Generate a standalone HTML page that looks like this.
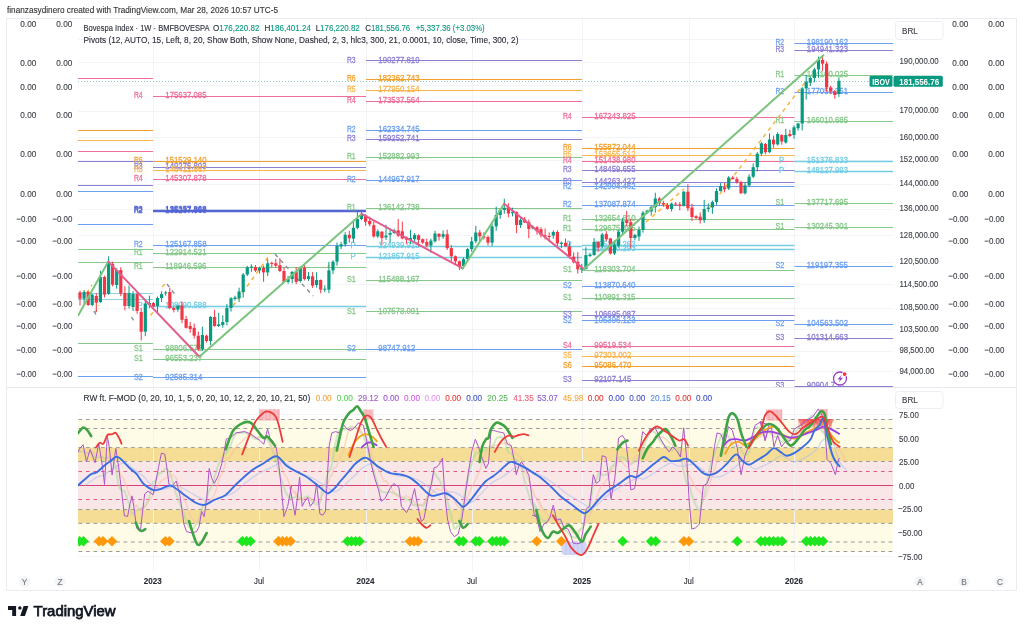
<!DOCTYPE html>
<html><head><meta charset="utf-8"><title>Bovespa Index chart</title>
<style>
html,body{margin:0;padding:0;background:#ffffff;}
body{width:1024px;height:632px;overflow:hidden;position:relative;font-family:'Liberation Sans', Arial, sans-serif;}
svg{position:absolute;left:0;top:0;}
svg text{font-family:'Liberation Sans', Arial, sans-serif;}
</style></head><body>
<svg width="1024" height="632" viewBox="0 0 1024 632">
<defs>
<clipPath id="cm"><rect x="78" y="19" width="815" height="368"/></clipPath>
<clipPath id="co"><rect x="78" y="388" width="815" height="182"/></clipPath>
</defs>
<text x="7.0" y="12.7" font-size="8.2" fill="#333333" textLength="271.0" lengthAdjust="spacingAndGlyphs" stroke="#333333" stroke-width="0.12">finanzasydinero created with TradingView.com, Mar 28, 2026 10:57 UTC-5</text>
<rect x="6.5" y="18.5" width="1010" height="572" fill="#ffffff" stroke="#ebecef" stroke-width="1"/>
<rect x="78" y="419.5" width="815" height="28.1" fill="#fefbe6"/>
<rect x="78" y="447.6" width="815" height="13.9" fill="#f5dd95"/>
<rect x="78" y="461.5" width="815" height="48.0" fill="#f9e6e6"/>
<rect x="78" y="509.5" width="815" height="13.9" fill="#f5dd95"/>
<rect x="78" y="523.4" width="815" height="28.1" fill="#fefbe6"/>
<line x1="78" y1="39.5" x2="893" y2="39.5" stroke="#f3f4f7" stroke-width="1"/>
<line x1="78" y1="62.5" x2="893" y2="62.5" stroke="#f3f4f7" stroke-width="1"/>
<line x1="78" y1="85.5" x2="893" y2="85.5" stroke="#f3f4f7" stroke-width="1"/>
<line x1="78" y1="111.5" x2="893" y2="111.5" stroke="#f3f4f7" stroke-width="1"/>
<line x1="78" y1="137.5" x2="893" y2="137.5" stroke="#f3f4f7" stroke-width="1"/>
<line x1="78" y1="160.5" x2="893" y2="160.5" stroke="#f3f4f7" stroke-width="1"/>
<line x1="78" y1="184.5" x2="893" y2="184.5" stroke="#f3f4f7" stroke-width="1"/>
<line x1="78" y1="209.5" x2="893" y2="209.5" stroke="#f3f4f7" stroke-width="1"/>
<line x1="78" y1="235.5" x2="893" y2="235.5" stroke="#f3f4f7" stroke-width="1"/>
<line x1="78" y1="262.5" x2="893" y2="262.5" stroke="#f3f4f7" stroke-width="1"/>
<line x1="78" y1="284.5" x2="893" y2="284.5" stroke="#f3f4f7" stroke-width="1"/>
<line x1="78" y1="308.5" x2="893" y2="308.5" stroke="#f3f4f7" stroke-width="1"/>
<line x1="78" y1="329.5" x2="893" y2="329.5" stroke="#f3f4f7" stroke-width="1"/>
<line x1="78" y1="351.5" x2="893" y2="351.5" stroke="#f3f4f7" stroke-width="1"/>
<line x1="78" y1="371.5" x2="893" y2="371.5" stroke="#f3f4f7" stroke-width="1"/>
<line x1="153.5" y1="19" x2="153.5" y2="571" stroke="#f2f3f6" stroke-width="1"/>
<line x1="259.5" y1="19" x2="259.5" y2="571" stroke="#f2f3f6" stroke-width="1"/>
<line x1="366.5" y1="19" x2="366.5" y2="571" stroke="#f2f3f6" stroke-width="1"/>
<line x1="472.5" y1="19" x2="472.5" y2="571" stroke="#f2f3f6" stroke-width="1"/>
<line x1="582.5" y1="19" x2="582.5" y2="571" stroke="#f2f3f6" stroke-width="1"/>
<line x1="689.5" y1="19" x2="689.5" y2="571" stroke="#f2f3f6" stroke-width="1"/>
<line x1="794.5" y1="19" x2="794.5" y2="571" stroke="#f2f3f6" stroke-width="1"/>
<line x1="7" y1="387.5" x2="1016" y2="387.5" stroke="#e6e8ee" stroke-width="1"/>
<line x1="78" y1="414.5" x2="893" y2="414.5" stroke="#f3f4f7" stroke-width="1"/>
<line x1="78" y1="556.5" x2="893" y2="556.5" stroke="#f3f4f7" stroke-width="1"/>
<text x="36.3" y="27.2" font-size="9" fill="#3b3e46" text-anchor="end" textLength="16.0" lengthAdjust="spacingAndGlyphs" stroke="#3b3e46" stroke-width="0.12">0.00</text>
<text x="72.3" y="27.2" font-size="9" fill="#3b3e46" text-anchor="end" textLength="16.0" lengthAdjust="spacingAndGlyphs" stroke="#3b3e46" stroke-width="0.12">0.00</text>
<text x="968.3" y="27.2" font-size="9" fill="#3b3e46" text-anchor="end" textLength="16.0" lengthAdjust="spacingAndGlyphs" stroke="#3b3e46" stroke-width="0.12">0.00</text>
<text x="1004.3" y="27.2" font-size="9" fill="#3b3e46" text-anchor="end" textLength="16.0" lengthAdjust="spacingAndGlyphs" stroke="#3b3e46" stroke-width="0.12">0.00</text>
<text x="36.3" y="65.7" font-size="9" fill="#3b3e46" text-anchor="end" textLength="16.0" lengthAdjust="spacingAndGlyphs" stroke="#3b3e46" stroke-width="0.12">0.00</text>
<text x="72.3" y="65.7" font-size="9" fill="#3b3e46" text-anchor="end" textLength="16.0" lengthAdjust="spacingAndGlyphs" stroke="#3b3e46" stroke-width="0.12">0.00</text>
<text x="968.3" y="65.7" font-size="9" fill="#3b3e46" text-anchor="end" textLength="16.0" lengthAdjust="spacingAndGlyphs" stroke="#3b3e46" stroke-width="0.12">0.00</text>
<text x="1004.3" y="65.7" font-size="9" fill="#3b3e46" text-anchor="end" textLength="16.0" lengthAdjust="spacingAndGlyphs" stroke="#3b3e46" stroke-width="0.12">0.00</text>
<text x="36.3" y="89.7" font-size="9" fill="#3b3e46" text-anchor="end" textLength="16.0" lengthAdjust="spacingAndGlyphs" stroke="#3b3e46" stroke-width="0.12">0.00</text>
<text x="72.3" y="89.7" font-size="9" fill="#3b3e46" text-anchor="end" textLength="16.0" lengthAdjust="spacingAndGlyphs" stroke="#3b3e46" stroke-width="0.12">0.00</text>
<text x="968.3" y="89.7" font-size="9" fill="#3b3e46" text-anchor="end" textLength="16.0" lengthAdjust="spacingAndGlyphs" stroke="#3b3e46" stroke-width="0.12">0.00</text>
<text x="1004.3" y="89.7" font-size="9" fill="#3b3e46" text-anchor="end" textLength="16.0" lengthAdjust="spacingAndGlyphs" stroke="#3b3e46" stroke-width="0.12">0.00</text>
<text x="36.3" y="118.2" font-size="9" fill="#3b3e46" text-anchor="end" textLength="16.0" lengthAdjust="spacingAndGlyphs" stroke="#3b3e46" stroke-width="0.12">0.00</text>
<text x="72.3" y="118.2" font-size="9" fill="#3b3e46" text-anchor="end" textLength="16.0" lengthAdjust="spacingAndGlyphs" stroke="#3b3e46" stroke-width="0.12">0.00</text>
<text x="968.3" y="118.2" font-size="9" fill="#3b3e46" text-anchor="end" textLength="16.0" lengthAdjust="spacingAndGlyphs" stroke="#3b3e46" stroke-width="0.12">0.00</text>
<text x="1004.3" y="118.2" font-size="9" fill="#3b3e46" text-anchor="end" textLength="16.0" lengthAdjust="spacingAndGlyphs" stroke="#3b3e46" stroke-width="0.12">0.00</text>
<text x="36.3" y="156.7" font-size="9" fill="#3b3e46" text-anchor="end" textLength="16.0" lengthAdjust="spacingAndGlyphs" stroke="#3b3e46" stroke-width="0.12">0.00</text>
<text x="72.3" y="156.7" font-size="9" fill="#3b3e46" text-anchor="end" textLength="16.0" lengthAdjust="spacingAndGlyphs" stroke="#3b3e46" stroke-width="0.12">0.00</text>
<text x="968.3" y="156.7" font-size="9" fill="#3b3e46" text-anchor="end" textLength="16.0" lengthAdjust="spacingAndGlyphs" stroke="#3b3e46" stroke-width="0.12">0.00</text>
<text x="1004.3" y="156.7" font-size="9" fill="#3b3e46" text-anchor="end" textLength="16.0" lengthAdjust="spacingAndGlyphs" stroke="#3b3e46" stroke-width="0.12">0.00</text>
<text x="36.3" y="196.9" font-size="9" fill="#3b3e46" text-anchor="end" textLength="16.0" lengthAdjust="spacingAndGlyphs" stroke="#3b3e46" stroke-width="0.12">0.00</text>
<text x="72.3" y="196.9" font-size="9" fill="#3b3e46" text-anchor="end" textLength="16.0" lengthAdjust="spacingAndGlyphs" stroke="#3b3e46" stroke-width="0.12">0.00</text>
<text x="968.3" y="196.9" font-size="9" fill="#3b3e46" text-anchor="end" textLength="16.0" lengthAdjust="spacingAndGlyphs" stroke="#3b3e46" stroke-width="0.12">0.00</text>
<text x="1004.3" y="196.9" font-size="9" fill="#3b3e46" text-anchor="end" textLength="16.0" lengthAdjust="spacingAndGlyphs" stroke="#3b3e46" stroke-width="0.12">0.00</text>
<text x="36.3" y="222.2" font-size="9" fill="#3b3e46" text-anchor="end" textLength="20.0" lengthAdjust="spacingAndGlyphs" stroke="#3b3e46" stroke-width="0.12">−0.00</text>
<text x="72.3" y="222.2" font-size="9" fill="#3b3e46" text-anchor="end" textLength="20.0" lengthAdjust="spacingAndGlyphs" stroke="#3b3e46" stroke-width="0.12">−0.00</text>
<text x="968.3" y="222.2" font-size="9" fill="#3b3e46" text-anchor="end" textLength="20.0" lengthAdjust="spacingAndGlyphs" stroke="#3b3e46" stroke-width="0.12">−0.00</text>
<text x="1004.3" y="222.2" font-size="9" fill="#3b3e46" text-anchor="end" textLength="20.0" lengthAdjust="spacingAndGlyphs" stroke="#3b3e46" stroke-width="0.12">−0.00</text>
<text x="36.3" y="243.8" font-size="9" fill="#3b3e46" text-anchor="end" textLength="20.0" lengthAdjust="spacingAndGlyphs" stroke="#3b3e46" stroke-width="0.12">−0.00</text>
<text x="72.3" y="243.8" font-size="9" fill="#3b3e46" text-anchor="end" textLength="20.0" lengthAdjust="spacingAndGlyphs" stroke="#3b3e46" stroke-width="0.12">−0.00</text>
<text x="968.3" y="243.8" font-size="9" fill="#3b3e46" text-anchor="end" textLength="20.0" lengthAdjust="spacingAndGlyphs" stroke="#3b3e46" stroke-width="0.12">−0.00</text>
<text x="1004.3" y="243.8" font-size="9" fill="#3b3e46" text-anchor="end" textLength="20.0" lengthAdjust="spacingAndGlyphs" stroke="#3b3e46" stroke-width="0.12">−0.00</text>
<text x="36.3" y="278.6" font-size="9" fill="#3b3e46" text-anchor="end" textLength="20.0" lengthAdjust="spacingAndGlyphs" stroke="#3b3e46" stroke-width="0.12">−0.00</text>
<text x="72.3" y="278.6" font-size="9" fill="#3b3e46" text-anchor="end" textLength="20.0" lengthAdjust="spacingAndGlyphs" stroke="#3b3e46" stroke-width="0.12">−0.00</text>
<text x="968.3" y="278.6" font-size="9" fill="#3b3e46" text-anchor="end" textLength="20.0" lengthAdjust="spacingAndGlyphs" stroke="#3b3e46" stroke-width="0.12">−0.00</text>
<text x="1004.3" y="278.6" font-size="9" fill="#3b3e46" text-anchor="end" textLength="20.0" lengthAdjust="spacingAndGlyphs" stroke="#3b3e46" stroke-width="0.12">−0.00</text>
<text x="36.3" y="306.5" font-size="9" fill="#3b3e46" text-anchor="end" textLength="20.0" lengthAdjust="spacingAndGlyphs" stroke="#3b3e46" stroke-width="0.12">−0.00</text>
<text x="72.3" y="306.5" font-size="9" fill="#3b3e46" text-anchor="end" textLength="20.0" lengthAdjust="spacingAndGlyphs" stroke="#3b3e46" stroke-width="0.12">−0.00</text>
<text x="968.3" y="306.5" font-size="9" fill="#3b3e46" text-anchor="end" textLength="20.0" lengthAdjust="spacingAndGlyphs" stroke="#3b3e46" stroke-width="0.12">−0.00</text>
<text x="1004.3" y="306.5" font-size="9" fill="#3b3e46" text-anchor="end" textLength="20.0" lengthAdjust="spacingAndGlyphs" stroke="#3b3e46" stroke-width="0.12">−0.00</text>
<text x="36.3" y="329.2" font-size="9" fill="#3b3e46" text-anchor="end" textLength="20.0" lengthAdjust="spacingAndGlyphs" stroke="#3b3e46" stroke-width="0.12">−0.00</text>
<text x="72.3" y="329.2" font-size="9" fill="#3b3e46" text-anchor="end" textLength="20.0" lengthAdjust="spacingAndGlyphs" stroke="#3b3e46" stroke-width="0.12">−0.00</text>
<text x="968.3" y="329.2" font-size="9" fill="#3b3e46" text-anchor="end" textLength="20.0" lengthAdjust="spacingAndGlyphs" stroke="#3b3e46" stroke-width="0.12">−0.00</text>
<text x="1004.3" y="329.2" font-size="9" fill="#3b3e46" text-anchor="end" textLength="20.0" lengthAdjust="spacingAndGlyphs" stroke="#3b3e46" stroke-width="0.12">−0.00</text>
<text x="36.3" y="353.0" font-size="9" fill="#3b3e46" text-anchor="end" textLength="20.0" lengthAdjust="spacingAndGlyphs" stroke="#3b3e46" stroke-width="0.12">−0.00</text>
<text x="72.3" y="353.0" font-size="9" fill="#3b3e46" text-anchor="end" textLength="20.0" lengthAdjust="spacingAndGlyphs" stroke="#3b3e46" stroke-width="0.12">−0.00</text>
<text x="968.3" y="353.0" font-size="9" fill="#3b3e46" text-anchor="end" textLength="20.0" lengthAdjust="spacingAndGlyphs" stroke="#3b3e46" stroke-width="0.12">−0.00</text>
<text x="1004.3" y="353.0" font-size="9" fill="#3b3e46" text-anchor="end" textLength="20.0" lengthAdjust="spacingAndGlyphs" stroke="#3b3e46" stroke-width="0.12">−0.00</text>
<text x="36.3" y="376.7" font-size="9" fill="#3b3e46" text-anchor="end" textLength="20.0" lengthAdjust="spacingAndGlyphs" stroke="#3b3e46" stroke-width="0.12">−0.00</text>
<text x="72.3" y="376.7" font-size="9" fill="#3b3e46" text-anchor="end" textLength="20.0" lengthAdjust="spacingAndGlyphs" stroke="#3b3e46" stroke-width="0.12">−0.00</text>
<text x="968.3" y="376.7" font-size="9" fill="#3b3e46" text-anchor="end" textLength="20.0" lengthAdjust="spacingAndGlyphs" stroke="#3b3e46" stroke-width="0.12">−0.00</text>
<text x="1004.3" y="376.7" font-size="9" fill="#3b3e46" text-anchor="end" textLength="20.0" lengthAdjust="spacingAndGlyphs" stroke="#3b3e46" stroke-width="0.12">−0.00</text>
<text x="899.5" y="63.8" font-size="9.2" fill="#3b3e46" textLength="39.1" lengthAdjust="spacingAndGlyphs" stroke="#3b3e46" stroke-width="0.12">190,000.00</text>
<text x="899.5" y="112.9" font-size="9.2" fill="#3b3e46" textLength="39.1" lengthAdjust="spacingAndGlyphs" stroke="#3b3e46" stroke-width="0.12">170,000.00</text>
<text x="899.5" y="139.5" font-size="9.2" fill="#3b3e46" textLength="39.1" lengthAdjust="spacingAndGlyphs" stroke="#3b3e46" stroke-width="0.12">160,000.00</text>
<text x="899.5" y="161.8" font-size="9.2" fill="#3b3e46" textLength="39.1" lengthAdjust="spacingAndGlyphs" stroke="#3b3e46" stroke-width="0.12">152,000.00</text>
<text x="899.5" y="185.8" font-size="9.2" fill="#3b3e46" textLength="39.1" lengthAdjust="spacingAndGlyphs" stroke="#3b3e46" stroke-width="0.12">144,000.00</text>
<text x="899.5" y="211.3" font-size="9.2" fill="#3b3e46" textLength="39.1" lengthAdjust="spacingAndGlyphs" stroke="#3b3e46" stroke-width="0.12">136,000.00</text>
<text x="899.5" y="238.3" font-size="9.2" fill="#3b3e46" textLength="39.1" lengthAdjust="spacingAndGlyphs" stroke="#3b3e46" stroke-width="0.12">128,000.00</text>
<text x="899.5" y="264.3" font-size="9.2" fill="#3b3e46" textLength="39.1" lengthAdjust="spacingAndGlyphs" stroke="#3b3e46" stroke-width="0.12">120,500.00</text>
<text x="899.5" y="286.7" font-size="9.2" fill="#3b3e46" textLength="38.6" lengthAdjust="spacingAndGlyphs" stroke="#3b3e46" stroke-width="0.12">114,500.00</text>
<text x="899.5" y="310.3" font-size="9.2" fill="#3b3e46" textLength="39.1" lengthAdjust="spacingAndGlyphs" stroke="#3b3e46" stroke-width="0.12">108,500.00</text>
<text x="899.5" y="331.6" font-size="9.2" fill="#3b3e46" textLength="39.1" lengthAdjust="spacingAndGlyphs" stroke="#3b3e46" stroke-width="0.12">103,500.00</text>
<text x="899.5" y="352.5" font-size="9.2" fill="#3b3e46" textLength="34.8" lengthAdjust="spacingAndGlyphs" stroke="#3b3e46" stroke-width="0.12">98,500.00</text>
<text x="899.5" y="374.3" font-size="9.2" fill="#3b3e46" textLength="34.8" lengthAdjust="spacingAndGlyphs" stroke="#3b3e46" stroke-width="0.12">94,000.00</text>
<rect x="895.5" y="21.5" width="47.5" height="18" rx="3" fill="#ffffff" stroke="#eceef2" stroke-width="1"/>
<text x="902.0" y="33.8" font-size="9" fill="#3b3e46" textLength="15.8" lengthAdjust="spacingAndGlyphs" stroke="#3b3e46" stroke-width="0.12">BRL</text>
<rect x="895.5" y="391.5" width="47.5" height="17" rx="3" fill="#ffffff" stroke="#eceef2" stroke-width="1"/>
<text x="902.0" y="403.3" font-size="9" fill="#3b3e46" textLength="15.8" lengthAdjust="spacingAndGlyphs" stroke="#3b3e46" stroke-width="0.12">BRL</text>
<g clip-path="url(#cm)">
<line x1="78" y1="78.5" x2="153" y2="78.5" stroke="#ef6f9a" stroke-width="1"/>
<line x1="78" y1="130.5" x2="153" y2="130.5" stroke="#f5a02c" stroke-width="1"/>
<line x1="78" y1="140.5" x2="153" y2="140.5" stroke="#f8b550" stroke-width="1"/>
<line x1="78" y1="151.5" x2="153" y2="151.5" stroke="#ef6f9a" stroke-width="1"/>
<line x1="78" y1="161.5" x2="153" y2="161.5" stroke="#8b7fd3" stroke-width="1"/>
<line x1="78" y1="185.5" x2="153" y2="185.5" stroke="#8b7fd3" stroke-width="1"/>
<line x1="78" y1="191.5" x2="153" y2="191.5" stroke="#6c9ff0" stroke-width="1"/>
<line x1="78" y1="224.5" x2="153" y2="224.5" stroke="#6c9ff0" stroke-width="1"/>
<line x1="78" y1="249.5" x2="153" y2="249.5" stroke="#86c88a" stroke-width="1"/>
<line x1="78" y1="262.5" x2="153" y2="262.5" stroke="#86c88a" stroke-width="1"/>
<line x1="78" y1="293.5" x2="153" y2="293.5" stroke="#8fd3e6" stroke-width="1"/>
<line x1="78" y1="299.5" x2="153" y2="299.5" stroke="#8fd3e6" stroke-width="1"/>
<line x1="78" y1="343.5" x2="153" y2="343.5" stroke="#86c88a" stroke-width="1"/>
<line x1="78" y1="376.5" x2="153" y2="376.5" stroke="#6c9ff0" stroke-width="1"/>
<line x1="153" y1="96.5" x2="366" y2="96.5" stroke="#ef6f9a" stroke-width="1"/>
<line x1="153" y1="161.5" x2="366" y2="161.5" stroke="#f5a02c" stroke-width="1"/>
<line x1="153" y1="167.5" x2="366" y2="167.5" stroke="#8b7fd3" stroke-width="1"/>
<line x1="153" y1="170.5" x2="366" y2="170.5" stroke="#f8b550" stroke-width="1"/>
<line x1="153" y1="179.5" x2="366" y2="179.5" stroke="#ef6f9a" stroke-width="1"/>
<line x1="153" y1="210.5" x2="366" y2="210.5" stroke="#5466d4" stroke-width="1.6"/>
<line x1="153" y1="211.5" x2="366" y2="211.5" stroke="#5466d4" stroke-width="1.6"/>
<line x1="153" y1="245.5" x2="366" y2="245.5" stroke="#6c9ff0" stroke-width="1"/>
<line x1="153" y1="253.5" x2="366" y2="253.5" stroke="#86c88a" stroke-width="1"/>
<line x1="153" y1="267.5" x2="366" y2="267.5" stroke="#86c88a" stroke-width="1"/>
<line x1="153" y1="306.5" x2="366" y2="306.5" stroke="#74cde5" stroke-width="1.4"/>
<line x1="153" y1="349.5" x2="366" y2="349.5" stroke="#86c88a" stroke-width="1"/>
<line x1="153" y1="359.5" x2="366" y2="359.5" stroke="#86c88a" stroke-width="1"/>
<line x1="153" y1="377.5" x2="366" y2="377.5" stroke="#6c9ff0" stroke-width="1"/>
<line x1="366" y1="60.5" x2="582" y2="60.5" stroke="#8b7fd3" stroke-width="1"/>
<line x1="366" y1="79.5" x2="582" y2="79.5" stroke="#f5a02c" stroke-width="1"/>
<line x1="366" y1="90.5" x2="582" y2="90.5" stroke="#f8b550" stroke-width="1"/>
<line x1="366" y1="101.5" x2="582" y2="101.5" stroke="#ef6f9a" stroke-width="1"/>
<line x1="366" y1="130.5" x2="582" y2="130.5" stroke="#6c9ff0" stroke-width="1"/>
<line x1="366" y1="139.5" x2="582" y2="139.5" stroke="#8b7fd3" stroke-width="1"/>
<line x1="366" y1="157.5" x2="582" y2="157.5" stroke="#86c88a" stroke-width="1"/>
<line x1="366" y1="180.5" x2="582" y2="180.5" stroke="#6c9ff0" stroke-width="1"/>
<line x1="366" y1="208.5" x2="582" y2="208.5" stroke="#86c88a" stroke-width="1"/>
<line x1="366" y1="246.5" x2="582" y2="246.5" stroke="#74cde5" stroke-width="1.4"/>
<line x1="366" y1="257.5" x2="582" y2="257.5" stroke="#74cde5" stroke-width="1.4"/>
<line x1="366" y1="280.5" x2="582" y2="280.5" stroke="#86c88a" stroke-width="1"/>
<line x1="366" y1="311.5" x2="582" y2="311.5" stroke="#86c88a" stroke-width="1"/>
<line x1="366" y1="349.5" x2="582" y2="349.5" stroke="#6c9ff0" stroke-width="1"/>
<line x1="582" y1="117.5" x2="794.5" y2="117.5" stroke="#ef6f9a" stroke-width="1"/>
<line x1="582" y1="148.5" x2="794.5" y2="148.5" stroke="#f5a02c" stroke-width="1"/>
<line x1="582" y1="155.5" x2="794.5" y2="155.5" stroke="#f8b550" stroke-width="1"/>
<line x1="582" y1="161.5" x2="794.5" y2="161.5" stroke="#ef6f9a" stroke-width="1"/>
<line x1="582" y1="170.5" x2="794.5" y2="170.5" stroke="#8b7fd3" stroke-width="1"/>
<line x1="582" y1="182.5" x2="794.5" y2="182.5" stroke="#8b7fd3" stroke-width="1"/>
<line x1="582" y1="186.5" x2="794.5" y2="186.5" stroke="#6c9ff0" stroke-width="1"/>
<line x1="582" y1="205.5" x2="794.5" y2="205.5" stroke="#6c9ff0" stroke-width="1"/>
<line x1="582" y1="219.5" x2="794.5" y2="219.5" stroke="#86c88a" stroke-width="1"/>
<line x1="582" y1="229.5" x2="794.5" y2="229.5" stroke="#86c88a" stroke-width="1"/>
<line x1="582" y1="245.5" x2="794.5" y2="245.5" stroke="#74cde5" stroke-width="1.4"/>
<line x1="582" y1="249.5" x2="794.5" y2="249.5" stroke="#74cde5" stroke-width="1.4"/>
<line x1="582" y1="270.5" x2="794.5" y2="270.5" stroke="#86c88a" stroke-width="1"/>
<line x1="582" y1="286.5" x2="794.5" y2="286.5" stroke="#6c9ff0" stroke-width="1"/>
<line x1="582" y1="298.5" x2="794.5" y2="298.5" stroke="#86c88a" stroke-width="1"/>
<line x1="582" y1="315.5" x2="794.5" y2="315.5" stroke="#8b7fd3" stroke-width="1"/>
<line x1="582" y1="320.5" x2="794.5" y2="320.5" stroke="#6c9ff0" stroke-width="1"/>
<line x1="582" y1="346.5" x2="794.5" y2="346.5" stroke="#ef6f9a" stroke-width="1"/>
<line x1="582" y1="356.5" x2="794.5" y2="356.5" stroke="#f8b550" stroke-width="1"/>
<line x1="582" y1="366.5" x2="794.5" y2="366.5" stroke="#f5a02c" stroke-width="1"/>
<line x1="582" y1="380.5" x2="794.5" y2="380.5" stroke="#8b7fd3" stroke-width="1"/>
<line x1="794.5" y1="43.5" x2="893" y2="43.5" stroke="#6c9ff0" stroke-width="1"/>
<line x1="794.5" y1="50.5" x2="893" y2="50.5" stroke="#8b7fd3" stroke-width="1"/>
<line x1="794.5" y1="75.5" x2="893" y2="75.5" stroke="#86c88a" stroke-width="1"/>
<line x1="794.5" y1="92.5" x2="893" y2="92.5" stroke="#6c9ff0" stroke-width="1"/>
<line x1="794.5" y1="121.5" x2="893" y2="121.5" stroke="#86c88a" stroke-width="1"/>
<line x1="794.5" y1="161.5" x2="893" y2="161.5" stroke="#74cde5" stroke-width="1.4"/>
<line x1="794.5" y1="171.5" x2="893" y2="171.5" stroke="#74cde5" stroke-width="1.4"/>
<line x1="794.5" y1="203.5" x2="893" y2="203.5" stroke="#86c88a" stroke-width="1"/>
<line x1="794.5" y1="227.5" x2="893" y2="227.5" stroke="#86c88a" stroke-width="1"/>
<line x1="794.5" y1="266.5" x2="893" y2="266.5" stroke="#6c9ff0" stroke-width="1"/>
<line x1="794.5" y1="324.5" x2="893" y2="324.5" stroke="#6c9ff0" stroke-width="1"/>
<line x1="794.5" y1="338.5" x2="893" y2="338.5" stroke="#8b7fd3" stroke-width="1"/>
<line x1="794.5" y1="386.5" x2="893" y2="386.5" stroke="#8b7fd3" stroke-width="1"/>
<text x="142.7" y="97.7" font-size="9" fill="#ef6f9a" text-anchor="end" textLength="8.8" lengthAdjust="spacingAndGlyphs" stroke="#ef6f9a" stroke-width="0.28">R4</text>
<text x="165.3" y="97.7" font-size="9" fill="#ef6f9a" textLength="41.2" lengthAdjust="spacingAndGlyphs" stroke="#ef6f9a" stroke-width="0.28">175637.085</text>
<text x="142.7" y="162.7" font-size="9" fill="#f5a02c" text-anchor="end" textLength="8.8" lengthAdjust="spacingAndGlyphs" stroke="#f5a02c" stroke-width="0.28">R6</text>
<text x="165.3" y="162.7" font-size="9" fill="#f5a02c" textLength="41.2" lengthAdjust="spacingAndGlyphs" stroke="#f5a02c" stroke-width="0.28">151529.140</text>
<text x="142.7" y="169.3" font-size="9" fill="#8b7fd3" text-anchor="end" textLength="8.8" lengthAdjust="spacingAndGlyphs" stroke="#8b7fd3" stroke-width="0.28">R3</text>
<text x="165.3" y="169.3" font-size="9" fill="#8b7fd3" textLength="41.2" lengthAdjust="spacingAndGlyphs" stroke="#8b7fd3" stroke-width="0.28">149275.803</text>
<text x="142.7" y="171.8" font-size="9" fill="#f8b550" text-anchor="end" textLength="8.8" lengthAdjust="spacingAndGlyphs" stroke="#f8b550" stroke-width="0.28">R5</text>
<text x="165.3" y="171.8" font-size="9" fill="#f8b550" textLength="41.2" lengthAdjust="spacingAndGlyphs" stroke="#f8b550" stroke-width="0.28">148412.867</text>
<text x="142.7" y="181.1" font-size="9" fill="#ef6f9a" text-anchor="end" textLength="8.8" lengthAdjust="spacingAndGlyphs" stroke="#ef6f9a" stroke-width="0.28">R4</text>
<text x="165.3" y="181.1" font-size="9" fill="#ef6f9a" textLength="41.2" lengthAdjust="spacingAndGlyphs" stroke="#ef6f9a" stroke-width="0.28">145307.878</text>
<text x="142.7" y="212.3" font-size="9" fill="#5466d4" text-anchor="end" textLength="8.8" lengthAdjust="spacingAndGlyphs" stroke="#5466d4" stroke-width="0.28">R3</text>
<text x="165.3" y="212.3" font-size="9" fill="#5466d4" textLength="41.2" lengthAdjust="spacingAndGlyphs" stroke="#5466d4" stroke-width="0.28">135357.868</text>
<text x="142.7" y="212.7" font-size="9" fill="#5466d4" text-anchor="end" textLength="8.8" lengthAdjust="spacingAndGlyphs" stroke="#5466d4" stroke-width="0.28">R2</text>
<text x="165.3" y="212.7" font-size="9" fill="#5466d4" textLength="41.2" lengthAdjust="spacingAndGlyphs" stroke="#5466d4" stroke-width="0.28">135237.868</text>
<text x="142.7" y="246.8" font-size="9" fill="#6c9ff0" text-anchor="end" textLength="8.8" lengthAdjust="spacingAndGlyphs" stroke="#6c9ff0" stroke-width="0.28">R2</text>
<text x="165.3" y="246.8" font-size="9" fill="#6c9ff0" textLength="41.2" lengthAdjust="spacingAndGlyphs" stroke="#6c9ff0" stroke-width="0.28">125167.858</text>
<text x="142.7" y="254.8" font-size="9" fill="#86c88a" text-anchor="end" textLength="8.8" lengthAdjust="spacingAndGlyphs" stroke="#86c88a" stroke-width="0.28">R1</text>
<text x="165.3" y="254.8" font-size="9" fill="#86c88a" textLength="41.2" lengthAdjust="spacingAndGlyphs" stroke="#86c88a" stroke-width="0.28">122914.521</text>
<text x="142.7" y="269.2" font-size="9" fill="#86c88a" text-anchor="end" textLength="8.8" lengthAdjust="spacingAndGlyphs" stroke="#86c88a" stroke-width="0.28">R1</text>
<text x="165.3" y="269.2" font-size="9" fill="#86c88a" textLength="41.2" lengthAdjust="spacingAndGlyphs" stroke="#86c88a" stroke-width="0.28">118946.596</text>
<text x="142.7" y="307.7" font-size="9" fill="#74cde5" text-anchor="end" textLength="5.2" lengthAdjust="spacingAndGlyphs" stroke="#74cde5" stroke-width="0.28">P</text>
<text x="165.3" y="307.7" font-size="9" fill="#74cde5" textLength="41.2" lengthAdjust="spacingAndGlyphs" stroke="#74cde5" stroke-width="0.28">108990.588</text>
<text x="142.7" y="350.9" font-size="9" fill="#86c88a" text-anchor="end" textLength="8.8" lengthAdjust="spacingAndGlyphs" stroke="#86c88a" stroke-width="0.28">S1</text>
<text x="165.3" y="350.9" font-size="9" fill="#86c88a" textLength="37.0" lengthAdjust="spacingAndGlyphs" stroke="#86c88a" stroke-width="0.28">98806.573</text>
<text x="142.7" y="361.0" font-size="9" fill="#86c88a" text-anchor="end" textLength="8.8" lengthAdjust="spacingAndGlyphs" stroke="#86c88a" stroke-width="0.28">S1</text>
<text x="165.3" y="361.0" font-size="9" fill="#86c88a" textLength="37.0" lengthAdjust="spacingAndGlyphs" stroke="#86c88a" stroke-width="0.28">96553.237</text>
<text x="142.7" y="379.5" font-size="9" fill="#6c9ff0" text-anchor="end" textLength="8.8" lengthAdjust="spacingAndGlyphs" stroke="#6c9ff0" stroke-width="0.28">S2</text>
<text x="165.3" y="379.5" font-size="9" fill="#6c9ff0" textLength="37.0" lengthAdjust="spacingAndGlyphs" stroke="#6c9ff0" stroke-width="0.28">92585.314</text>
<text x="355.7" y="62.5" font-size="9" fill="#8b7fd3" text-anchor="end" textLength="8.8" lengthAdjust="spacingAndGlyphs" stroke="#8b7fd3" stroke-width="0.28">R3</text>
<text x="378.3" y="62.5" font-size="9" fill="#8b7fd3" textLength="41.2" lengthAdjust="spacingAndGlyphs" stroke="#8b7fd3" stroke-width="0.28">190277.819</text>
<text x="355.7" y="81.2" font-size="9" fill="#f5a02c" text-anchor="end" textLength="8.8" lengthAdjust="spacingAndGlyphs" stroke="#f5a02c" stroke-width="0.28">R6</text>
<text x="378.3" y="81.2" font-size="9" fill="#f5a02c" textLength="41.2" lengthAdjust="spacingAndGlyphs" stroke="#f5a02c" stroke-width="0.28">182362.743</text>
<text x="355.7" y="91.9" font-size="9" fill="#f8b550" text-anchor="end" textLength="8.8" lengthAdjust="spacingAndGlyphs" stroke="#f8b550" stroke-width="0.28">R5</text>
<text x="378.3" y="91.9" font-size="9" fill="#f8b550" textLength="41.2" lengthAdjust="spacingAndGlyphs" stroke="#f8b550" stroke-width="0.28">177950.154</text>
<text x="355.7" y="103.0" font-size="9" fill="#ef6f9a" text-anchor="end" textLength="8.8" lengthAdjust="spacingAndGlyphs" stroke="#ef6f9a" stroke-width="0.28">R4</text>
<text x="378.3" y="103.0" font-size="9" fill="#ef6f9a" textLength="41.2" lengthAdjust="spacingAndGlyphs" stroke="#ef6f9a" stroke-width="0.28">173537.564</text>
<text x="355.7" y="132.4" font-size="9" fill="#6c9ff0" text-anchor="end" textLength="8.8" lengthAdjust="spacingAndGlyphs" stroke="#6c9ff0" stroke-width="0.28">R2</text>
<text x="378.3" y="132.4" font-size="9" fill="#6c9ff0" textLength="41.2" lengthAdjust="spacingAndGlyphs" stroke="#6c9ff0" stroke-width="0.28">162334.745</text>
<text x="355.7" y="140.8" font-size="9" fill="#8b7fd3" text-anchor="end" textLength="8.8" lengthAdjust="spacingAndGlyphs" stroke="#8b7fd3" stroke-width="0.28">R3</text>
<text x="378.3" y="140.8" font-size="9" fill="#8b7fd3" textLength="41.2" lengthAdjust="spacingAndGlyphs" stroke="#8b7fd3" stroke-width="0.28">159252.741</text>
<text x="355.7" y="158.8" font-size="9" fill="#86c88a" text-anchor="end" textLength="8.8" lengthAdjust="spacingAndGlyphs" stroke="#86c88a" stroke-width="0.28">R1</text>
<text x="378.3" y="158.8" font-size="9" fill="#86c88a" textLength="41.2" lengthAdjust="spacingAndGlyphs" stroke="#86c88a" stroke-width="0.28">152882.993</text>
<text x="355.7" y="182.2" font-size="9" fill="#6c9ff0" text-anchor="end" textLength="8.8" lengthAdjust="spacingAndGlyphs" stroke="#6c9ff0" stroke-width="0.28">R2</text>
<text x="378.3" y="182.2" font-size="9" fill="#6c9ff0" textLength="41.2" lengthAdjust="spacingAndGlyphs" stroke="#6c9ff0" stroke-width="0.28">144967.917</text>
<text x="355.7" y="209.8" font-size="9" fill="#86c88a" text-anchor="end" textLength="8.8" lengthAdjust="spacingAndGlyphs" stroke="#86c88a" stroke-width="0.28">R1</text>
<text x="378.3" y="209.8" font-size="9" fill="#86c88a" textLength="41.2" lengthAdjust="spacingAndGlyphs" stroke="#86c88a" stroke-width="0.28">136142.738</text>
<text x="355.7" y="247.6" font-size="9" fill="#74cde5" text-anchor="end" textLength="5.2" lengthAdjust="spacingAndGlyphs" stroke="#74cde5" stroke-width="0.28">P</text>
<text x="378.3" y="247.6" font-size="9" fill="#74cde5" textLength="41.2" lengthAdjust="spacingAndGlyphs" stroke="#74cde5" stroke-width="0.28">124939.915</text>
<text x="355.7" y="258.6" font-size="9" fill="#74cde5" text-anchor="end" textLength="5.2" lengthAdjust="spacingAndGlyphs" stroke="#74cde5" stroke-width="0.28">P</text>
<text x="378.3" y="258.6" font-size="9" fill="#74cde5" textLength="41.2" lengthAdjust="spacingAndGlyphs" stroke="#74cde5" stroke-width="0.28">121857.915</text>
<text x="355.7" y="282.2" font-size="9" fill="#86c88a" text-anchor="end" textLength="8.8" lengthAdjust="spacingAndGlyphs" stroke="#86c88a" stroke-width="0.28">S1</text>
<text x="378.3" y="282.2" font-size="9" fill="#86c88a" textLength="41.2" lengthAdjust="spacingAndGlyphs" stroke="#86c88a" stroke-width="0.28">115488.167</text>
<text x="355.7" y="313.5" font-size="9" fill="#86c88a" text-anchor="end" textLength="8.8" lengthAdjust="spacingAndGlyphs" stroke="#86c88a" stroke-width="0.28">S1</text>
<text x="378.3" y="313.5" font-size="9" fill="#86c88a" textLength="41.2" lengthAdjust="spacingAndGlyphs" stroke="#86c88a" stroke-width="0.28">107573.091</text>
<text x="355.7" y="351.1" font-size="9" fill="#6c9ff0" text-anchor="end" textLength="8.8" lengthAdjust="spacingAndGlyphs" stroke="#6c9ff0" stroke-width="0.28">S2</text>
<text x="378.3" y="351.1" font-size="9" fill="#6c9ff0" textLength="37.0" lengthAdjust="spacingAndGlyphs" stroke="#6c9ff0" stroke-width="0.28">98747.912</text>
<text x="571.7" y="119.2" font-size="9" fill="#ef6f9a" text-anchor="end" textLength="8.8" lengthAdjust="spacingAndGlyphs" stroke="#ef6f9a" stroke-width="0.28">R4</text>
<text x="594.3" y="119.2" font-size="9" fill="#ef6f9a" textLength="41.2" lengthAdjust="spacingAndGlyphs" stroke="#ef6f9a" stroke-width="0.28">167243.825</text>
<text x="571.7" y="150.2" font-size="9" fill="#f5a02c" text-anchor="end" textLength="8.8" lengthAdjust="spacingAndGlyphs" stroke="#f5a02c" stroke-width="0.28">R6</text>
<text x="594.3" y="150.2" font-size="9" fill="#f5a02c" textLength="41.2" lengthAdjust="spacingAndGlyphs" stroke="#f5a02c" stroke-width="0.28">155872.044</text>
<text x="571.7" y="156.5" font-size="9" fill="#f8b550" text-anchor="end" textLength="8.8" lengthAdjust="spacingAndGlyphs" stroke="#f8b550" stroke-width="0.28">R5</text>
<text x="594.3" y="156.5" font-size="9" fill="#f8b550" textLength="41.2" lengthAdjust="spacingAndGlyphs" stroke="#f8b550" stroke-width="0.28">153655.512</text>
<text x="571.7" y="162.9" font-size="9" fill="#ef6f9a" text-anchor="end" textLength="8.8" lengthAdjust="spacingAndGlyphs" stroke="#ef6f9a" stroke-width="0.28">R4</text>
<text x="594.3" y="162.9" font-size="9" fill="#ef6f9a" textLength="41.2" lengthAdjust="spacingAndGlyphs" stroke="#ef6f9a" stroke-width="0.28">151438.980</text>
<text x="571.7" y="171.7" font-size="9" fill="#8b7fd3" text-anchor="end" textLength="8.8" lengthAdjust="spacingAndGlyphs" stroke="#8b7fd3" stroke-width="0.28">R3</text>
<text x="594.3" y="171.7" font-size="9" fill="#8b7fd3" textLength="41.2" lengthAdjust="spacingAndGlyphs" stroke="#8b7fd3" stroke-width="0.28">148459.655</text>
<text x="571.7" y="184.3" font-size="9" fill="#8b7fd3" text-anchor="end" textLength="8.8" lengthAdjust="spacingAndGlyphs" stroke="#8b7fd3" stroke-width="0.28">R3</text>
<text x="594.3" y="184.3" font-size="9" fill="#8b7fd3" textLength="41.2" lengthAdjust="spacingAndGlyphs" stroke="#8b7fd3" stroke-width="0.28">144263.427</text>
<text x="571.7" y="188.5" font-size="9" fill="#6c9ff0" text-anchor="end" textLength="8.8" lengthAdjust="spacingAndGlyphs" stroke="#6c9ff0" stroke-width="0.28">R2</text>
<text x="594.3" y="188.5" font-size="9" fill="#6c9ff0" textLength="41.2" lengthAdjust="spacingAndGlyphs" stroke="#6c9ff0" stroke-width="0.28">142904.462</text>
<text x="571.7" y="206.7" font-size="9" fill="#6c9ff0" text-anchor="end" textLength="8.8" lengthAdjust="spacingAndGlyphs" stroke="#6c9ff0" stroke-width="0.28">R2</text>
<text x="594.3" y="206.7" font-size="9" fill="#6c9ff0" textLength="41.2" lengthAdjust="spacingAndGlyphs" stroke="#6c9ff0" stroke-width="0.28">137087.874</text>
<text x="571.7" y="221.2" font-size="9" fill="#86c88a" text-anchor="end" textLength="8.8" lengthAdjust="spacingAndGlyphs" stroke="#86c88a" stroke-width="0.28">R1</text>
<text x="594.3" y="221.2" font-size="9" fill="#86c88a" textLength="41.2" lengthAdjust="spacingAndGlyphs" stroke="#86c88a" stroke-width="0.28">132654.810</text>
<text x="571.7" y="231.2" font-size="9" fill="#86c88a" text-anchor="end" textLength="8.8" lengthAdjust="spacingAndGlyphs" stroke="#86c88a" stroke-width="0.28">R1</text>
<text x="594.3" y="231.2" font-size="9" fill="#86c88a" textLength="41.2" lengthAdjust="spacingAndGlyphs" stroke="#86c88a" stroke-width="0.28">129675.485</text>
<text x="571.7" y="246.7" font-size="9" fill="#74cde5" text-anchor="end" textLength="5.2" lengthAdjust="spacingAndGlyphs" stroke="#74cde5" stroke-width="0.28">P</text>
<text x="594.3" y="246.7" font-size="9" fill="#74cde5" textLength="41.2" lengthAdjust="spacingAndGlyphs" stroke="#74cde5" stroke-width="0.28">125190.263</text>
<text x="571.7" y="250.8" font-size="9" fill="#74cde5" text-anchor="end" textLength="5.2" lengthAdjust="spacingAndGlyphs" stroke="#74cde5" stroke-width="0.28">P</text>
<text x="594.3" y="250.8" font-size="9" fill="#74cde5" textLength="41.2" lengthAdjust="spacingAndGlyphs" stroke="#74cde5" stroke-width="0.28">124030.293</text>
<text x="571.7" y="271.6" font-size="9" fill="#86c88a" text-anchor="end" textLength="8.8" lengthAdjust="spacingAndGlyphs" stroke="#86c88a" stroke-width="0.28">S1</text>
<text x="594.3" y="271.6" font-size="9" fill="#86c88a" textLength="41.2" lengthAdjust="spacingAndGlyphs" stroke="#86c88a" stroke-width="0.28">118303.704</text>
<text x="571.7" y="288.4" font-size="9" fill="#6c9ff0" text-anchor="end" textLength="8.8" lengthAdjust="spacingAndGlyphs" stroke="#6c9ff0" stroke-width="0.28">S2</text>
<text x="594.3" y="288.4" font-size="9" fill="#6c9ff0" textLength="41.2" lengthAdjust="spacingAndGlyphs" stroke="#6c9ff0" stroke-width="0.28">113870.640</text>
<text x="571.7" y="300.1" font-size="9" fill="#86c88a" text-anchor="end" textLength="8.8" lengthAdjust="spacingAndGlyphs" stroke="#86c88a" stroke-width="0.28">S1</text>
<text x="594.3" y="300.1" font-size="9" fill="#86c88a" textLength="41.2" lengthAdjust="spacingAndGlyphs" stroke="#86c88a" stroke-width="0.28">110891.315</text>
<text x="571.7" y="317.1" font-size="9" fill="#8b7fd3" text-anchor="end" textLength="8.8" lengthAdjust="spacingAndGlyphs" stroke="#8b7fd3" stroke-width="0.28">S3</text>
<text x="594.3" y="317.1" font-size="9" fill="#8b7fd3" textLength="41.2" lengthAdjust="spacingAndGlyphs" stroke="#8b7fd3" stroke-width="0.28">106695.087</text>
<text x="571.7" y="322.5" font-size="9" fill="#6c9ff0" text-anchor="end" textLength="8.8" lengthAdjust="spacingAndGlyphs" stroke="#6c9ff0" stroke-width="0.28">S2</text>
<text x="594.3" y="322.5" font-size="9" fill="#6c9ff0" textLength="41.2" lengthAdjust="spacingAndGlyphs" stroke="#6c9ff0" stroke-width="0.28">105396.123</text>
<text x="571.7" y="347.7" font-size="9" fill="#ef6f9a" text-anchor="end" textLength="8.8" lengthAdjust="spacingAndGlyphs" stroke="#ef6f9a" stroke-width="0.28">S4</text>
<text x="594.3" y="347.7" font-size="9" fill="#ef6f9a" textLength="37.0" lengthAdjust="spacingAndGlyphs" stroke="#ef6f9a" stroke-width="0.28">99519.534</text>
<text x="571.7" y="357.6" font-size="9" fill="#f8b550" text-anchor="end" textLength="8.8" lengthAdjust="spacingAndGlyphs" stroke="#f8b550" stroke-width="0.28">S5</text>
<text x="594.3" y="357.6" font-size="9" fill="#f8b550" textLength="37.0" lengthAdjust="spacingAndGlyphs" stroke="#f8b550" stroke-width="0.28">97303.002</text>
<text x="571.7" y="367.8" font-size="9" fill="#f5a02c" text-anchor="end" textLength="8.8" lengthAdjust="spacingAndGlyphs" stroke="#f5a02c" stroke-width="0.28">S6</text>
<text x="594.3" y="367.8" font-size="9" fill="#f5a02c" textLength="37.0" lengthAdjust="spacingAndGlyphs" stroke="#f5a02c" stroke-width="0.28">95086.470</text>
<text x="571.7" y="381.8" font-size="9" fill="#8b7fd3" text-anchor="end" textLength="8.8" lengthAdjust="spacingAndGlyphs" stroke="#8b7fd3" stroke-width="0.28">S3</text>
<text x="594.3" y="381.8" font-size="9" fill="#8b7fd3" textLength="37.0" lengthAdjust="spacingAndGlyphs" stroke="#8b7fd3" stroke-width="0.28">92107.145</text>
<text x="784.2" y="44.5" font-size="9" fill="#6c9ff0" text-anchor="end" textLength="8.8" lengthAdjust="spacingAndGlyphs" stroke="#6c9ff0" stroke-width="0.28">R2</text>
<text x="806.8" y="44.5" font-size="9" fill="#6c9ff0" textLength="41.2" lengthAdjust="spacingAndGlyphs" stroke="#6c9ff0" stroke-width="0.28">198190.162</text>
<text x="784.2" y="51.8" font-size="9" fill="#8b7fd3" text-anchor="end" textLength="8.8" lengthAdjust="spacingAndGlyphs" stroke="#8b7fd3" stroke-width="0.28">R3</text>
<text x="806.8" y="51.8" font-size="9" fill="#8b7fd3" textLength="41.2" lengthAdjust="spacingAndGlyphs" stroke="#8b7fd3" stroke-width="0.28">194941.323</text>
<text x="784.2" y="77.0" font-size="9" fill="#86c88a" text-anchor="end" textLength="8.8" lengthAdjust="spacingAndGlyphs" stroke="#86c88a" stroke-width="0.28">R1</text>
<text x="806.8" y="77.0" font-size="9" fill="#86c88a" textLength="41.2" lengthAdjust="spacingAndGlyphs" stroke="#86c88a" stroke-width="0.28">184100.025</text>
<text x="784.2" y="94.1" font-size="9" fill="#6c9ff0" text-anchor="end" textLength="8.8" lengthAdjust="spacingAndGlyphs" stroke="#6c9ff0" stroke-width="0.28">R2</text>
<text x="806.8" y="94.1" font-size="9" fill="#6c9ff0" textLength="41.2" lengthAdjust="spacingAndGlyphs" stroke="#6c9ff0" stroke-width="0.28">177058.351</text>
<text x="784.2" y="122.5" font-size="9" fill="#86c88a" text-anchor="end" textLength="8.8" lengthAdjust="spacingAndGlyphs" stroke="#86c88a" stroke-width="0.28">R1</text>
<text x="806.8" y="122.5" font-size="9" fill="#86c88a" textLength="41.2" lengthAdjust="spacingAndGlyphs" stroke="#86c88a" stroke-width="0.28">166010.685</text>
<text x="784.2" y="163.1" font-size="9" fill="#74cde5" text-anchor="end" textLength="5.2" lengthAdjust="spacingAndGlyphs" stroke="#74cde5" stroke-width="0.28">P</text>
<text x="806.8" y="163.1" font-size="9" fill="#74cde5" textLength="41.2" lengthAdjust="spacingAndGlyphs" stroke="#74cde5" stroke-width="0.28">151376.833</text>
<text x="784.2" y="172.7" font-size="9" fill="#74cde5" text-anchor="end" textLength="5.2" lengthAdjust="spacingAndGlyphs" stroke="#74cde5" stroke-width="0.28">P</text>
<text x="806.8" y="172.7" font-size="9" fill="#74cde5" textLength="41.2" lengthAdjust="spacingAndGlyphs" stroke="#74cde5" stroke-width="0.28">148127.993</text>
<text x="784.2" y="204.7" font-size="9" fill="#86c88a" text-anchor="end" textLength="8.8" lengthAdjust="spacingAndGlyphs" stroke="#86c88a" stroke-width="0.28">S1</text>
<text x="806.8" y="204.7" font-size="9" fill="#86c88a" textLength="41.2" lengthAdjust="spacingAndGlyphs" stroke="#86c88a" stroke-width="0.28">137717.695</text>
<text x="784.2" y="229.3" font-size="9" fill="#86c88a" text-anchor="end" textLength="8.8" lengthAdjust="spacingAndGlyphs" stroke="#86c88a" stroke-width="0.28">S1</text>
<text x="806.8" y="229.3" font-size="9" fill="#86c88a" textLength="41.2" lengthAdjust="spacingAndGlyphs" stroke="#86c88a" stroke-width="0.28">130245.301</text>
<text x="784.2" y="268.3" font-size="9" fill="#6c9ff0" text-anchor="end" textLength="8.8" lengthAdjust="spacingAndGlyphs" stroke="#6c9ff0" stroke-width="0.28">S2</text>
<text x="806.8" y="268.3" font-size="9" fill="#6c9ff0" textLength="41.2" lengthAdjust="spacingAndGlyphs" stroke="#6c9ff0" stroke-width="0.28">119197.355</text>
<text x="784.2" y="325.9" font-size="9" fill="#6c9ff0" text-anchor="end" textLength="8.8" lengthAdjust="spacingAndGlyphs" stroke="#6c9ff0" stroke-width="0.28">S2</text>
<text x="806.8" y="325.9" font-size="9" fill="#6c9ff0" textLength="41.2" lengthAdjust="spacingAndGlyphs" stroke="#6c9ff0" stroke-width="0.28">104563.502</text>
<text x="784.2" y="339.8" font-size="9" fill="#8b7fd3" text-anchor="end" textLength="8.8" lengthAdjust="spacingAndGlyphs" stroke="#8b7fd3" stroke-width="0.28">S3</text>
<text x="806.8" y="339.8" font-size="9" fill="#8b7fd3" textLength="41.2" lengthAdjust="spacingAndGlyphs" stroke="#8b7fd3" stroke-width="0.28">101314.663</text>
<text x="784.2" y="387.5" font-size="9" fill="#8b7fd3" text-anchor="end" textLength="8.8" lengthAdjust="spacingAndGlyphs" stroke="#8b7fd3" stroke-width="0.28">S3</text>
<text x="806.8" y="387.5" font-size="9" fill="#8b7fd3" textLength="37.0" lengthAdjust="spacingAndGlyphs" stroke="#8b7fd3" stroke-width="0.28">90904.735</text>
</g>
<g clip-path="url(#cm)">
<line x1="710" y1="207" x2="806" y2="81" stroke="#f7b23b" stroke-width="1.4" stroke-dasharray="4 4"/>
<line x1="646" y1="222" x2="684" y2="189" stroke="#f7b23b" stroke-width="1.4" stroke-dasharray="4 4"/>
<line x1="233" y1="306" x2="271" y2="253" stroke="#f7b23b" stroke-width="1.4" stroke-dasharray="4 4"/>
<line x1="86.5" y1="293" x2="92" y2="285" stroke="#f7b23b" stroke-width="1.4" stroke-dasharray="4 4"/>
<line x1="95" y1="313" x2="99" y2="305" stroke="#f7b23b" stroke-width="1.4" stroke-dasharray="4 4"/>
<line x1="150.5" y1="315.5" x2="154" y2="311" stroke="#f7b23b" stroke-width="1.4" stroke-dasharray="4 4"/>
<line x1="162" y1="287" x2="166" y2="283" stroke="#f7b23b" stroke-width="1.4" stroke-dasharray="4 4"/>
<line x1="327" y1="268" x2="330" y2="264" stroke="#f7b23b" stroke-width="1.4" stroke-dasharray="4 4"/>
<line x1="275" y1="254" x2="313" y2="296" stroke="#8a8d96" stroke-width="1.4" stroke-dasharray="4 4"/>
<line x1="94" y1="311" x2="97" y2="316.5" stroke="#8a8d96" stroke-width="1.4" stroke-dasharray="4 4"/>
<line x1="131.5" y1="317" x2="135" y2="323" stroke="#8a8d96" stroke-width="1.4" stroke-dasharray="4 4"/>
<line x1="167" y1="284" x2="175" y2="294.5" stroke="#8a8d96" stroke-width="1.4" stroke-dasharray="4 4"/>
<line x1="80.0" y1="290.6" x2="80.0" y2="305.5" stroke="#f23645" stroke-width="1"/>
<rect x="78.4" y="292.4" width="3.2" height="6.3" fill="#f23645"/>
<line x1="84.1" y1="290.0" x2="84.1" y2="304.6" stroke="#089981" stroke-width="1"/>
<rect x="82.5" y="292.0" width="3.2" height="6.7" fill="#089981"/>
<line x1="88.2" y1="291.2" x2="88.2" y2="305.9" stroke="#f23645" stroke-width="1"/>
<rect x="86.6" y="292.0" width="3.2" height="13.0" fill="#f23645"/>
<line x1="92.2" y1="293.6" x2="92.2" y2="306.4" stroke="#089981" stroke-width="1"/>
<rect x="90.6" y="294.6" width="3.2" height="10.4" fill="#089981"/>
<line x1="96.3" y1="293.2" x2="96.3" y2="312.1" stroke="#f23645" stroke-width="1"/>
<rect x="94.7" y="296.0" width="3.2" height="6.7" fill="#f23645"/>
<line x1="100.4" y1="270.8" x2="100.4" y2="303.1" stroke="#089981" stroke-width="1"/>
<rect x="98.8" y="277.0" width="3.2" height="25.0" fill="#089981"/>
<line x1="104.5" y1="275.8" x2="104.5" y2="297.4" stroke="#f23645" stroke-width="1"/>
<rect x="102.9" y="277.0" width="3.2" height="17.6" fill="#f23645"/>
<line x1="108.6" y1="256.3" x2="108.6" y2="294.8" stroke="#089981" stroke-width="1"/>
<rect x="107.0" y="263.0" width="3.2" height="31.0" fill="#089981"/>
<line x1="112.6" y1="261.8" x2="112.6" y2="286.4" stroke="#f23645" stroke-width="1"/>
<rect x="111.0" y="264.0" width="3.2" height="20.6" fill="#f23645"/>
<line x1="116.7" y1="268.3" x2="116.7" y2="288.7" stroke="#089981" stroke-width="1"/>
<rect x="115.1" y="270.0" width="3.2" height="15.0" fill="#089981"/>
<line x1="120.8" y1="267.2" x2="120.8" y2="296.2" stroke="#f23645" stroke-width="1"/>
<rect x="119.2" y="270.0" width="3.2" height="23.6" fill="#f23645"/>
<line x1="124.9" y1="286.3" x2="124.9" y2="310.4" stroke="#f23645" stroke-width="1"/>
<rect x="123.3" y="293.0" width="3.2" height="13.0" fill="#f23645"/>
<line x1="129.0" y1="285.6" x2="129.0" y2="308.5" stroke="#089981" stroke-width="1"/>
<rect x="127.4" y="293.0" width="3.2" height="13.0" fill="#089981"/>
<line x1="133.0" y1="291.2" x2="133.0" y2="311.0" stroke="#089981" stroke-width="1"/>
<rect x="131.4" y="294.0" width="3.2" height="13.0" fill="#089981"/>
<line x1="137.1" y1="291.1" x2="137.1" y2="313.8" stroke="#f23645" stroke-width="1"/>
<rect x="135.5" y="294.0" width="3.2" height="17.0" fill="#f23645"/>
<line x1="141.2" y1="307.7" x2="141.2" y2="340.6" stroke="#f23645" stroke-width="1"/>
<rect x="139.6" y="312.0" width="3.2" height="19.7" fill="#f23645"/>
<line x1="145.3" y1="300.4" x2="145.3" y2="336.2" stroke="#089981" stroke-width="1"/>
<rect x="143.7" y="303.5" width="3.2" height="28.2" fill="#089981"/>
<line x1="149.4" y1="295.6" x2="149.4" y2="308.2" stroke="#089981" stroke-width="1"/>
<rect x="147.8" y="303.0" width="3.2" height="2.0" fill="#089981"/>
<line x1="153.4" y1="302.0" x2="153.4" y2="307.1" stroke="#f23645" stroke-width="1"/>
<rect x="151.8" y="303.0" width="3.2" height="3.4" fill="#f23645"/>
<line x1="157.5" y1="296.5" x2="157.5" y2="313.3" stroke="#089981" stroke-width="1"/>
<rect x="155.9" y="298.0" width="3.2" height="8.0" fill="#089981"/>
<line x1="161.6" y1="291.3" x2="161.6" y2="302.0" stroke="#089981" stroke-width="1"/>
<rect x="160.0" y="294.0" width="3.2" height="4.0" fill="#089981"/>
<line x1="165.7" y1="290.9" x2="165.7" y2="295.7" stroke="#089981" stroke-width="1"/>
<rect x="164.1" y="292.5" width="3.2" height="1.0" fill="#089981"/>
<line x1="169.8" y1="287.7" x2="169.8" y2="309.1" stroke="#f23645" stroke-width="1"/>
<rect x="168.2" y="292.0" width="3.2" height="16.0" fill="#f23645"/>
<line x1="173.8" y1="306.6" x2="173.8" y2="312.4" stroke="#f23645" stroke-width="1"/>
<rect x="172.2" y="308.0" width="3.2" height="2.0" fill="#f23645"/>
<line x1="177.9" y1="305.1" x2="177.9" y2="311.8" stroke="#089981" stroke-width="1"/>
<rect x="176.3" y="305.6" width="3.2" height="4.0" fill="#089981"/>
<line x1="182.0" y1="301.3" x2="182.0" y2="323.1" stroke="#f23645" stroke-width="1"/>
<rect x="180.4" y="305.6" width="3.2" height="14.2" fill="#f23645"/>
<line x1="186.1" y1="315.8" x2="186.1" y2="328.5" stroke="#f23645" stroke-width="1"/>
<rect x="184.5" y="319.0" width="3.2" height="8.8" fill="#f23645"/>
<line x1="190.2" y1="322.0" x2="190.2" y2="332.7" stroke="#f23645" stroke-width="1"/>
<rect x="188.6" y="326.0" width="3.2" height="3.0" fill="#f23645"/>
<line x1="194.2" y1="323.5" x2="194.2" y2="338.7" stroke="#f23645" stroke-width="1"/>
<rect x="192.6" y="327.8" width="3.2" height="7.9" fill="#f23645"/>
<line x1="198.3" y1="331.5" x2="198.3" y2="350.9" stroke="#f23645" stroke-width="1"/>
<rect x="196.7" y="335.7" width="3.2" height="13.3" fill="#f23645"/>
<line x1="202.4" y1="326.7" x2="202.4" y2="351.0" stroke="#089981" stroke-width="1"/>
<rect x="200.8" y="335.0" width="3.2" height="14.0" fill="#089981"/>
<line x1="206.5" y1="334.6" x2="206.5" y2="342.5" stroke="#f23645" stroke-width="1"/>
<rect x="204.9" y="335.7" width="3.2" height="5.3" fill="#f23645"/>
<line x1="210.6" y1="316.0" x2="210.6" y2="344.9" stroke="#089981" stroke-width="1"/>
<rect x="209.0" y="317.0" width="3.2" height="24.0" fill="#089981"/>
<line x1="214.6" y1="309.9" x2="214.6" y2="326.8" stroke="#f23645" stroke-width="1"/>
<rect x="213.0" y="317.0" width="3.2" height="9.0" fill="#f23645"/>
<line x1="218.7" y1="312.8" x2="218.7" y2="327.1" stroke="#089981" stroke-width="1"/>
<rect x="217.1" y="324.4" width="3.2" height="1.6" fill="#089981"/>
<line x1="222.8" y1="315.3" x2="222.8" y2="327.7" stroke="#089981" stroke-width="1"/>
<rect x="221.2" y="322.0" width="3.2" height="3.0" fill="#089981"/>
<line x1="226.9" y1="304.0" x2="226.9" y2="325.3" stroke="#089981" stroke-width="1"/>
<rect x="225.3" y="308.0" width="3.2" height="14.0" fill="#089981"/>
<line x1="231.0" y1="297.1" x2="231.0" y2="311.6" stroke="#089981" stroke-width="1"/>
<rect x="229.4" y="298.3" width="3.2" height="9.7" fill="#089981"/>
<line x1="235.0" y1="295.7" x2="235.0" y2="300.4" stroke="#089981" stroke-width="1"/>
<rect x="233.4" y="297.5" width="3.2" height="1.5" fill="#089981"/>
<line x1="239.1" y1="287.6" x2="239.1" y2="302.0" stroke="#089981" stroke-width="1"/>
<rect x="237.5" y="291.5" width="3.2" height="6.8" fill="#089981"/>
<line x1="243.2" y1="273.1" x2="243.2" y2="297.7" stroke="#089981" stroke-width="1"/>
<rect x="241.6" y="274.5" width="3.2" height="17.5" fill="#089981"/>
<line x1="247.3" y1="265.8" x2="247.3" y2="276.0" stroke="#089981" stroke-width="1"/>
<rect x="245.7" y="267.4" width="3.2" height="7.1" fill="#089981"/>
<line x1="251.4" y1="264.3" x2="251.4" y2="271.9" stroke="#089981" stroke-width="1"/>
<rect x="249.8" y="266.6" width="3.2" height="1.1" fill="#089981"/>
<line x1="255.4" y1="265.0" x2="255.4" y2="272.0" stroke="#f23645" stroke-width="1"/>
<rect x="253.8" y="267.0" width="3.2" height="3.6" fill="#f23645"/>
<line x1="259.5" y1="266.7" x2="259.5" y2="273.5" stroke="#089981" stroke-width="1"/>
<rect x="257.9" y="268.0" width="3.2" height="2.5" fill="#089981"/>
<line x1="263.6" y1="265.6" x2="263.6" y2="281.8" stroke="#f23645" stroke-width="1"/>
<rect x="262.0" y="268.0" width="3.2" height="4.4" fill="#f23645"/>
<line x1="267.7" y1="259.2" x2="267.7" y2="276.0" stroke="#089981" stroke-width="1"/>
<rect x="266.1" y="263.3" width="3.2" height="9.1" fill="#089981"/>
<line x1="271.8" y1="261.7" x2="271.8" y2="267.5" stroke="#f23645" stroke-width="1"/>
<rect x="270.2" y="262.9" width="3.2" height="1.0" fill="#f23645"/>
<line x1="275.8" y1="258.9" x2="275.8" y2="267.8" stroke="#f23645" stroke-width="1"/>
<rect x="274.2" y="263.3" width="3.2" height="2.4" fill="#f23645"/>
<line x1="279.9" y1="258.0" x2="279.9" y2="272.2" stroke="#f23645" stroke-width="1"/>
<rect x="278.3" y="265.2" width="3.2" height="5.8" fill="#f23645"/>
<line x1="284.0" y1="267.3" x2="284.0" y2="283.0" stroke="#f23645" stroke-width="1"/>
<rect x="282.4" y="271.0" width="3.2" height="10.9" fill="#f23645"/>
<line x1="288.1" y1="275.9" x2="288.1" y2="283.8" stroke="#089981" stroke-width="1"/>
<rect x="286.5" y="279.0" width="3.2" height="2.9" fill="#089981"/>
<line x1="292.2" y1="271.3" x2="292.2" y2="283.4" stroke="#089981" stroke-width="1"/>
<rect x="290.6" y="271.9" width="3.2" height="7.1" fill="#089981"/>
<line x1="296.2" y1="267.2" x2="296.2" y2="284.1" stroke="#f23645" stroke-width="1"/>
<rect x="294.6" y="271.4" width="3.2" height="10.5" fill="#f23645"/>
<line x1="300.3" y1="266.3" x2="300.3" y2="282.5" stroke="#089981" stroke-width="1"/>
<rect x="298.7" y="267.6" width="3.2" height="13.4" fill="#089981"/>
<line x1="304.4" y1="264.8" x2="304.4" y2="280.5" stroke="#f23645" stroke-width="1"/>
<rect x="302.8" y="267.6" width="3.2" height="11.4" fill="#f23645"/>
<line x1="308.5" y1="272.1" x2="308.5" y2="280.9" stroke="#089981" stroke-width="1"/>
<rect x="306.9" y="276.2" width="3.2" height="2.8" fill="#089981"/>
<line x1="312.6" y1="272.1" x2="312.6" y2="287.9" stroke="#f23645" stroke-width="1"/>
<rect x="311.0" y="276.2" width="3.2" height="9.5" fill="#f23645"/>
<line x1="316.6" y1="272.2" x2="316.6" y2="287.6" stroke="#089981" stroke-width="1"/>
<rect x="315.0" y="280.0" width="3.2" height="5.0" fill="#089981"/>
<line x1="320.7" y1="279.5" x2="320.7" y2="293.3" stroke="#f23645" stroke-width="1"/>
<rect x="319.1" y="280.0" width="3.2" height="9.6" fill="#f23645"/>
<line x1="324.8" y1="285.3" x2="324.8" y2="292.3" stroke="#089981" stroke-width="1"/>
<rect x="323.2" y="288.7" width="3.2" height="1.0" fill="#089981"/>
<line x1="328.9" y1="261.9" x2="328.9" y2="293.2" stroke="#089981" stroke-width="1"/>
<rect x="327.3" y="270.4" width="3.2" height="19.2" fill="#089981"/>
<line x1="333.0" y1="260.1" x2="333.0" y2="274.0" stroke="#089981" stroke-width="1"/>
<rect x="331.4" y="261.7" width="3.2" height="8.7" fill="#089981"/>
<line x1="337.0" y1="242.5" x2="337.0" y2="265.8" stroke="#089981" stroke-width="1"/>
<rect x="335.4" y="246.0" width="3.2" height="15.7" fill="#089981"/>
<line x1="341.1" y1="241.8" x2="341.1" y2="249.1" stroke="#089981" stroke-width="1"/>
<rect x="339.5" y="244.3" width="3.2" height="2.3" fill="#089981"/>
<line x1="345.2" y1="232.2" x2="345.2" y2="246.7" stroke="#089981" stroke-width="1"/>
<rect x="343.6" y="234.8" width="3.2" height="9.5" fill="#089981"/>
<line x1="349.3" y1="230.8" x2="349.3" y2="242.6" stroke="#f23645" stroke-width="1"/>
<rect x="347.7" y="234.8" width="3.2" height="3.5" fill="#f23645"/>
<line x1="353.4" y1="219.9" x2="353.4" y2="242.5" stroke="#089981" stroke-width="1"/>
<rect x="351.8" y="227.8" width="3.2" height="10.8" fill="#089981"/>
<line x1="357.4" y1="211.9" x2="357.4" y2="229.3" stroke="#089981" stroke-width="1"/>
<rect x="355.8" y="219.0" width="3.2" height="8.8" fill="#089981"/>
<line x1="361.5" y1="210.7" x2="361.5" y2="220.1" stroke="#089981" stroke-width="1"/>
<rect x="359.9" y="214.8" width="3.2" height="4.2" fill="#089981"/>
<line x1="365.6" y1="214.2" x2="365.6" y2="225.7" stroke="#f23645" stroke-width="1"/>
<rect x="364.0" y="215.3" width="3.2" height="6.4" fill="#f23645"/>
<line x1="369.7" y1="216.6" x2="369.7" y2="226.4" stroke="#f23645" stroke-width="1"/>
<rect x="368.1" y="220.9" width="3.2" height="3.4" fill="#f23645"/>
<line x1="373.8" y1="221.4" x2="373.8" y2="237.6" stroke="#f23645" stroke-width="1"/>
<rect x="372.2" y="225.2" width="3.2" height="11.3" fill="#f23645"/>
<line x1="377.8" y1="229.4" x2="377.8" y2="237.8" stroke="#089981" stroke-width="1"/>
<rect x="376.2" y="231.3" width="3.2" height="5.2" fill="#089981"/>
<line x1="381.9" y1="231.1" x2="381.9" y2="245.4" stroke="#f23645" stroke-width="1"/>
<rect x="380.3" y="231.7" width="3.2" height="6.3" fill="#f23645"/>
<line x1="386.0" y1="224.7" x2="386.0" y2="239.9" stroke="#089981" stroke-width="1"/>
<rect x="384.4" y="235.6" width="3.2" height="1.8" fill="#089981"/>
<line x1="390.1" y1="228.6" x2="390.1" y2="242.6" stroke="#089981" stroke-width="1"/>
<rect x="388.5" y="233.0" width="3.2" height="1.8" fill="#089981"/>
<line x1="394.2" y1="228.8" x2="394.2" y2="234.0" stroke="#089981" stroke-width="1"/>
<rect x="392.6" y="230.4" width="3.2" height="2.6" fill="#089981"/>
<line x1="398.2" y1="219.0" x2="398.2" y2="237.1" stroke="#f23645" stroke-width="1"/>
<rect x="396.6" y="230.4" width="3.2" height="5.2" fill="#f23645"/>
<line x1="402.3" y1="221.6" x2="402.3" y2="239.4" stroke="#f23645" stroke-width="1"/>
<rect x="400.7" y="231.3" width="3.2" height="7.2" fill="#f23645"/>
<line x1="406.4" y1="236.5" x2="406.4" y2="243.9" stroke="#f23645" stroke-width="1"/>
<rect x="404.8" y="237.3" width="3.2" height="2.3" fill="#f23645"/>
<line x1="410.5" y1="229.9" x2="410.5" y2="243.9" stroke="#089981" stroke-width="1"/>
<rect x="408.9" y="238.0" width="3.2" height="2.0" fill="#089981"/>
<line x1="414.6" y1="233.0" x2="414.6" y2="241.9" stroke="#089981" stroke-width="1"/>
<rect x="413.0" y="234.9" width="3.2" height="4.3" fill="#089981"/>
<line x1="418.6" y1="234.3" x2="418.6" y2="246.3" stroke="#f23645" stroke-width="1"/>
<rect x="417.0" y="235.3" width="3.2" height="4.6" fill="#f23645"/>
<line x1="422.7" y1="238.5" x2="422.7" y2="244.0" stroke="#f23645" stroke-width="1"/>
<rect x="421.1" y="239.2" width="3.2" height="3.5" fill="#f23645"/>
<line x1="426.8" y1="238.5" x2="426.8" y2="247.3" stroke="#f23645" stroke-width="1"/>
<rect x="425.2" y="242.0" width="3.2" height="3.6" fill="#f23645"/>
<line x1="430.9" y1="238.7" x2="430.9" y2="252.8" stroke="#089981" stroke-width="1"/>
<rect x="429.3" y="240.6" width="3.2" height="5.0" fill="#089981"/>
<line x1="435.0" y1="230.8" x2="435.0" y2="242.6" stroke="#089981" stroke-width="1"/>
<rect x="433.4" y="233.5" width="3.2" height="7.8" fill="#089981"/>
<line x1="439.0" y1="233.0" x2="439.0" y2="240.6" stroke="#f23645" stroke-width="1"/>
<rect x="437.4" y="233.9" width="3.2" height="2.9" fill="#f23645"/>
<line x1="443.1" y1="230.4" x2="443.1" y2="238.9" stroke="#089981" stroke-width="1"/>
<rect x="441.5" y="234.2" width="3.2" height="2.6" fill="#089981"/>
<line x1="447.2" y1="229.8" x2="447.2" y2="250.0" stroke="#f23645" stroke-width="1"/>
<rect x="445.6" y="234.2" width="3.2" height="13.9" fill="#f23645"/>
<line x1="451.3" y1="245.1" x2="451.3" y2="262.1" stroke="#f23645" stroke-width="1"/>
<rect x="449.7" y="248.1" width="3.2" height="8.2" fill="#f23645"/>
<line x1="455.4" y1="255.5" x2="455.4" y2="264.8" stroke="#f23645" stroke-width="1"/>
<rect x="453.8" y="256.3" width="3.2" height="5.0" fill="#f23645"/>
<line x1="459.4" y1="260.5" x2="459.4" y2="270.1" stroke="#f23645" stroke-width="1"/>
<rect x="457.8" y="261.3" width="3.2" height="4.9" fill="#f23645"/>
<line x1="463.5" y1="257.5" x2="463.5" y2="267.7" stroke="#089981" stroke-width="1"/>
<rect x="461.9" y="259.1" width="3.2" height="7.1" fill="#089981"/>
<line x1="467.6" y1="248.0" x2="467.6" y2="261.4" stroke="#089981" stroke-width="1"/>
<rect x="466.0" y="249.1" width="3.2" height="10.0" fill="#089981"/>
<line x1="471.7" y1="236.9" x2="471.7" y2="251.8" stroke="#089981" stroke-width="1"/>
<rect x="470.1" y="241.3" width="3.2" height="7.8" fill="#089981"/>
<line x1="475.8" y1="225.9" x2="475.8" y2="243.2" stroke="#089981" stroke-width="1"/>
<rect x="474.2" y="232.5" width="3.2" height="8.8" fill="#089981"/>
<line x1="479.8" y1="230.0" x2="479.8" y2="241.9" stroke="#f23645" stroke-width="1"/>
<rect x="478.2" y="232.5" width="3.2" height="3.8" fill="#f23645"/>
<line x1="483.9" y1="232.3" x2="483.9" y2="239.6" stroke="#f23645" stroke-width="1"/>
<rect x="482.3" y="236.3" width="3.2" height="1.2" fill="#f23645"/>
<line x1="488.0" y1="235.6" x2="488.0" y2="245.5" stroke="#f23645" stroke-width="1"/>
<rect x="486.4" y="237.0" width="3.2" height="5.7" fill="#f23645"/>
<line x1="492.1" y1="223.3" x2="492.1" y2="246.1" stroke="#089981" stroke-width="1"/>
<rect x="490.5" y="226.4" width="3.2" height="16.3" fill="#089981"/>
<line x1="496.2" y1="206.6" x2="496.2" y2="230.8" stroke="#089981" stroke-width="1"/>
<rect x="494.6" y="215.0" width="3.2" height="11.4" fill="#089981"/>
<line x1="500.2" y1="209.3" x2="500.2" y2="218.8" stroke="#089981" stroke-width="1"/>
<rect x="498.6" y="210.0" width="3.2" height="5.0" fill="#089981"/>
<line x1="504.3" y1="198.7" x2="504.3" y2="213.7" stroke="#089981" stroke-width="1"/>
<rect x="502.7" y="207.8" width="3.2" height="2.2" fill="#089981"/>
<line x1="508.4" y1="203.2" x2="508.4" y2="217.2" stroke="#f23645" stroke-width="1"/>
<rect x="506.8" y="207.0" width="3.2" height="6.5" fill="#f23645"/>
<line x1="512.5" y1="207.7" x2="512.5" y2="216.4" stroke="#089981" stroke-width="1"/>
<rect x="510.9" y="211.8" width="3.2" height="1.4" fill="#089981"/>
<line x1="516.6" y1="211.4" x2="516.6" y2="233.2" stroke="#f23645" stroke-width="1"/>
<rect x="515.0" y="212.0" width="3.2" height="13.0" fill="#f23645"/>
<line x1="520.6" y1="217.3" x2="520.6" y2="228.0" stroke="#089981" stroke-width="1"/>
<rect x="519.0" y="220.0" width="3.2" height="5.0" fill="#089981"/>
<line x1="524.7" y1="216.9" x2="524.7" y2="223.0" stroke="#f23645" stroke-width="1"/>
<rect x="523.1" y="219.4" width="3.2" height="3.1" fill="#f23645"/>
<line x1="528.8" y1="219.6" x2="528.8" y2="238.2" stroke="#f23645" stroke-width="1"/>
<rect x="527.2" y="222.1" width="3.2" height="6.8" fill="#f23645"/>
<line x1="532.9" y1="225.4" x2="532.9" y2="229.3" stroke="#089981" stroke-width="1"/>
<rect x="531.3" y="226.9" width="3.2" height="1.6" fill="#089981"/>
<line x1="537.0" y1="226.0" x2="537.0" y2="234.7" stroke="#f23645" stroke-width="1"/>
<rect x="535.4" y="227.3" width="3.2" height="3.9" fill="#f23645"/>
<line x1="541.0" y1="227.2" x2="541.0" y2="237.6" stroke="#f23645" stroke-width="1"/>
<rect x="539.4" y="229.2" width="3.2" height="6.0" fill="#f23645"/>
<line x1="545.1" y1="228.5" x2="545.1" y2="239.5" stroke="#f23645" stroke-width="1"/>
<rect x="543.5" y="235.2" width="3.2" height="1.2" fill="#f23645"/>
<line x1="549.2" y1="232.5" x2="549.2" y2="241.8" stroke="#f23645" stroke-width="1"/>
<rect x="547.6" y="236.0" width="3.2" height="1.0" fill="#f23645"/>
<line x1="553.3" y1="230.4" x2="553.3" y2="238.8" stroke="#089981" stroke-width="1"/>
<rect x="551.7" y="232.0" width="3.2" height="3.6" fill="#089981"/>
<line x1="557.4" y1="230.3" x2="557.4" y2="246.1" stroke="#f23645" stroke-width="1"/>
<rect x="555.8" y="232.0" width="3.2" height="11.5" fill="#f23645"/>
<line x1="561.4" y1="241.7" x2="561.4" y2="248.0" stroke="#089981" stroke-width="1"/>
<rect x="559.8" y="242.7" width="3.2" height="1.2" fill="#089981"/>
<line x1="565.5" y1="238.5" x2="565.5" y2="247.0" stroke="#f23645" stroke-width="1"/>
<rect x="563.9" y="242.7" width="3.2" height="3.7" fill="#f23645"/>
<line x1="569.6" y1="242.0" x2="569.6" y2="258.6" stroke="#f23645" stroke-width="1"/>
<rect x="568.0" y="246.4" width="3.2" height="9.9" fill="#f23645"/>
<line x1="573.7" y1="252.4" x2="573.7" y2="263.5" stroke="#f23645" stroke-width="1"/>
<rect x="572.1" y="256.7" width="3.2" height="5.5" fill="#f23645"/>
<line x1="577.8" y1="252.1" x2="577.8" y2="273.6" stroke="#f23645" stroke-width="1"/>
<rect x="576.2" y="261.8" width="3.2" height="7.5" fill="#f23645"/>
<line x1="581.8" y1="263.8" x2="581.8" y2="273.0" stroke="#089981" stroke-width="1"/>
<rect x="580.2" y="267.8" width="3.2" height="1.9" fill="#089981"/>
<line x1="585.9" y1="247.2" x2="585.9" y2="269.6" stroke="#089981" stroke-width="1"/>
<rect x="584.3" y="255.1" width="3.2" height="13.9" fill="#089981"/>
<line x1="590.0" y1="252.8" x2="590.0" y2="257.1" stroke="#089981" stroke-width="1"/>
<rect x="588.4" y="254.5" width="3.2" height="1.5" fill="#089981"/>
<line x1="594.1" y1="238.1" x2="594.1" y2="255.6" stroke="#089981" stroke-width="1"/>
<rect x="592.5" y="242.0" width="3.2" height="13.1" fill="#089981"/>
<line x1="598.2" y1="241.0" x2="598.2" y2="251.8" stroke="#f23645" stroke-width="1"/>
<rect x="596.6" y="242.0" width="3.2" height="5.6" fill="#f23645"/>
<line x1="602.2" y1="232.8" x2="602.2" y2="248.4" stroke="#089981" stroke-width="1"/>
<rect x="600.6" y="234.5" width="3.2" height="11.9" fill="#089981"/>
<line x1="606.3" y1="231.2" x2="606.3" y2="241.2" stroke="#f23645" stroke-width="1"/>
<rect x="604.7" y="234.1" width="3.2" height="5.2" fill="#f23645"/>
<line x1="610.4" y1="237.8" x2="610.4" y2="254.4" stroke="#f23645" stroke-width="1"/>
<rect x="608.8" y="238.5" width="3.2" height="15.0" fill="#f23645"/>
<line x1="614.5" y1="240.6" x2="614.5" y2="255.0" stroke="#089981" stroke-width="1"/>
<rect x="612.9" y="244.8" width="3.2" height="8.7" fill="#089981"/>
<line x1="618.6" y1="230.4" x2="618.6" y2="247.6" stroke="#089981" stroke-width="1"/>
<rect x="617.0" y="231.7" width="3.2" height="13.9" fill="#089981"/>
<line x1="622.6" y1="217.7" x2="622.6" y2="234.7" stroke="#089981" stroke-width="1"/>
<rect x="621.0" y="221.4" width="3.2" height="10.3" fill="#089981"/>
<line x1="626.7" y1="210.9" x2="626.7" y2="226.4" stroke="#f23645" stroke-width="1"/>
<rect x="625.1" y="220.3" width="3.2" height="2.7" fill="#f23645"/>
<line x1="630.8" y1="218.7" x2="630.8" y2="248.7" stroke="#f23645" stroke-width="1"/>
<rect x="629.2" y="222.2" width="3.2" height="15.8" fill="#f23645"/>
<line x1="634.9" y1="233.9" x2="634.9" y2="240.4" stroke="#089981" stroke-width="1"/>
<rect x="633.3" y="234.9" width="3.2" height="3.1" fill="#089981"/>
<line x1="639.0" y1="226.5" x2="639.0" y2="240.9" stroke="#089981" stroke-width="1"/>
<rect x="637.4" y="230.0" width="3.2" height="6.5" fill="#089981"/>
<line x1="643.0" y1="211.0" x2="643.0" y2="232.7" stroke="#089981" stroke-width="1"/>
<rect x="641.4" y="212.7" width="3.2" height="17.3" fill="#089981"/>
<line x1="647.1" y1="209.7" x2="647.1" y2="214.0" stroke="#089981" stroke-width="1"/>
<rect x="645.5" y="210.8" width="3.2" height="1.9" fill="#089981"/>
<line x1="651.2" y1="205.8" x2="651.2" y2="215.6" stroke="#089981" stroke-width="1"/>
<rect x="649.6" y="207.2" width="3.2" height="4.3" fill="#089981"/>
<line x1="655.3" y1="192.7" x2="655.3" y2="212.7" stroke="#089981" stroke-width="1"/>
<rect x="653.7" y="198.5" width="3.2" height="8.7" fill="#089981"/>
<line x1="659.4" y1="197.0" x2="659.4" y2="206.0" stroke="#f23645" stroke-width="1"/>
<rect x="657.8" y="198.5" width="3.2" height="4.7" fill="#f23645"/>
<line x1="663.4" y1="200.8" x2="663.4" y2="206.7" stroke="#f23645" stroke-width="1"/>
<rect x="661.8" y="203.0" width="3.2" height="1.5" fill="#f23645"/>
<line x1="667.5" y1="203.1" x2="667.5" y2="209.5" stroke="#f23645" stroke-width="1"/>
<rect x="665.9" y="205.0" width="3.2" height="3.8" fill="#f23645"/>
<line x1="671.6" y1="202.6" x2="671.6" y2="211.5" stroke="#089981" stroke-width="1"/>
<rect x="670.0" y="203.6" width="3.2" height="5.4" fill="#089981"/>
<line x1="675.7" y1="202.2" x2="675.7" y2="206.1" stroke="#f23645" stroke-width="1"/>
<rect x="674.1" y="203.6" width="3.2" height="1.0" fill="#f23645"/>
<line x1="679.8" y1="202.1" x2="679.8" y2="210.3" stroke="#f23645" stroke-width="1"/>
<rect x="678.2" y="204.4" width="3.2" height="1.6" fill="#f23645"/>
<line x1="683.8" y1="191.1" x2="683.8" y2="206.6" stroke="#089981" stroke-width="1"/>
<rect x="682.2" y="191.7" width="3.2" height="14.3" fill="#089981"/>
<line x1="687.9" y1="184.3" x2="687.9" y2="211.1" stroke="#f23645" stroke-width="1"/>
<rect x="686.3" y="191.7" width="3.2" height="16.6" fill="#f23645"/>
<line x1="692.0" y1="203.7" x2="692.0" y2="220.9" stroke="#f23645" stroke-width="1"/>
<rect x="690.4" y="207.5" width="3.2" height="9.5" fill="#f23645"/>
<line x1="696.1" y1="215.3" x2="696.1" y2="219.1" stroke="#f23645" stroke-width="1"/>
<rect x="694.5" y="216.2" width="3.2" height="1.8" fill="#f23645"/>
<line x1="700.2" y1="212.4" x2="700.2" y2="223.6" stroke="#f23645" stroke-width="1"/>
<rect x="698.6" y="216.7" width="3.2" height="3.5" fill="#f23645"/>
<line x1="704.2" y1="199.8" x2="704.2" y2="222.9" stroke="#089981" stroke-width="1"/>
<rect x="702.6" y="209.0" width="3.2" height="11.2" fill="#089981"/>
<line x1="708.3" y1="203.3" x2="708.3" y2="212.1" stroke="#089981" stroke-width="1"/>
<rect x="706.7" y="207.5" width="3.2" height="1.5" fill="#089981"/>
<line x1="712.4" y1="200.5" x2="712.4" y2="213.9" stroke="#089981" stroke-width="1"/>
<rect x="710.8" y="202.0" width="3.2" height="5.5" fill="#089981"/>
<line x1="716.5" y1="188.4" x2="716.5" y2="204.8" stroke="#089981" stroke-width="1"/>
<rect x="714.9" y="191.0" width="3.2" height="11.0" fill="#089981"/>
<line x1="720.6" y1="183.1" x2="720.6" y2="191.5" stroke="#089981" stroke-width="1"/>
<rect x="719.0" y="186.0" width="3.2" height="5.0" fill="#089981"/>
<line x1="724.6" y1="183.0" x2="724.6" y2="192.4" stroke="#f23645" stroke-width="1"/>
<rect x="723.0" y="187.3" width="3.2" height="2.0" fill="#f23645"/>
<line x1="728.7" y1="176.1" x2="728.7" y2="190.0" stroke="#089981" stroke-width="1"/>
<rect x="727.1" y="177.5" width="3.2" height="11.0" fill="#089981"/>
<line x1="732.8" y1="175.8" x2="732.8" y2="179.6" stroke="#f23645" stroke-width="1"/>
<rect x="731.2" y="177.5" width="3.2" height="1.5" fill="#f23645"/>
<line x1="736.9" y1="176.8" x2="736.9" y2="183.7" stroke="#f23645" stroke-width="1"/>
<rect x="735.3" y="179.0" width="3.2" height="3.2" fill="#f23645"/>
<line x1="741.0" y1="180.8" x2="741.0" y2="193.9" stroke="#f23645" stroke-width="1"/>
<rect x="739.4" y="182.2" width="3.2" height="11.1" fill="#f23645"/>
<line x1="745.0" y1="182.2" x2="745.0" y2="194.6" stroke="#089981" stroke-width="1"/>
<rect x="743.4" y="185.4" width="3.2" height="7.9" fill="#089981"/>
<line x1="749.1" y1="174.2" x2="749.1" y2="186.7" stroke="#089981" stroke-width="1"/>
<rect x="747.5" y="176.7" width="3.2" height="8.7" fill="#089981"/>
<line x1="753.2" y1="163.4" x2="753.2" y2="178.1" stroke="#089981" stroke-width="1"/>
<rect x="751.6" y="167.2" width="3.2" height="9.5" fill="#089981"/>
<line x1="757.3" y1="152.0" x2="757.3" y2="171.5" stroke="#089981" stroke-width="1"/>
<rect x="755.7" y="153.7" width="3.2" height="13.5" fill="#089981"/>
<line x1="761.4" y1="142.0" x2="761.4" y2="155.9" stroke="#089981" stroke-width="1"/>
<rect x="759.8" y="143.4" width="3.2" height="10.3" fill="#089981"/>
<line x1="765.4" y1="142.9" x2="765.4" y2="154.3" stroke="#f23645" stroke-width="1"/>
<rect x="763.8" y="144.0" width="3.2" height="8.2" fill="#f23645"/>
<line x1="769.5" y1="133.5" x2="769.5" y2="152.9" stroke="#089981" stroke-width="1"/>
<rect x="767.9" y="139.5" width="3.2" height="12.7" fill="#089981"/>
<line x1="773.6" y1="135.6" x2="773.6" y2="147.8" stroke="#f23645" stroke-width="1"/>
<rect x="772.0" y="139.6" width="3.2" height="4.8" fill="#f23645"/>
<line x1="777.7" y1="132.2" x2="777.7" y2="145.6" stroke="#089981" stroke-width="1"/>
<rect x="776.1" y="134.0" width="3.2" height="10.4" fill="#089981"/>
<line x1="781.8" y1="134.4" x2="781.8" y2="144.7" stroke="#f23645" stroke-width="1"/>
<rect x="780.2" y="135.0" width="3.2" height="6.5" fill="#f23645"/>
<line x1="785.8" y1="128.8" x2="785.8" y2="143.7" stroke="#089981" stroke-width="1"/>
<rect x="784.2" y="135.0" width="3.2" height="7.5" fill="#089981"/>
<line x1="789.9" y1="129.7" x2="789.9" y2="137.0" stroke="#f23645" stroke-width="1"/>
<rect x="788.3" y="134.0" width="3.2" height="2.0" fill="#f23645"/>
<line x1="794.0" y1="125.4" x2="794.0" y2="138.8" stroke="#089981" stroke-width="1"/>
<rect x="792.4" y="127.3" width="3.2" height="7.7" fill="#089981"/>
<line x1="798.1" y1="122.8" x2="798.1" y2="130.6" stroke="#089981" stroke-width="1"/>
<rect x="796.5" y="123.5" width="3.2" height="4.7" fill="#089981"/>
<line x1="802.2" y1="87.1" x2="802.2" y2="130.5" stroke="#089981" stroke-width="1"/>
<rect x="800.6" y="88.4" width="3.2" height="35.1" fill="#089981"/>
<line x1="806.2" y1="74.8" x2="806.2" y2="99.6" stroke="#089981" stroke-width="1"/>
<rect x="804.6" y="81.7" width="3.2" height="6.7" fill="#089981"/>
<line x1="810.3" y1="76.5" x2="810.3" y2="86.2" stroke="#089981" stroke-width="1"/>
<rect x="808.7" y="78.0" width="3.2" height="4.7" fill="#089981"/>
<line x1="814.4" y1="67.8" x2="814.4" y2="82.3" stroke="#089981" stroke-width="1"/>
<rect x="812.8" y="69.4" width="3.2" height="8.6" fill="#089981"/>
<line x1="818.5" y1="56.6" x2="818.5" y2="77.9" stroke="#089981" stroke-width="1"/>
<rect x="816.9" y="60.0" width="3.2" height="9.4" fill="#089981"/>
<line x1="822.6" y1="55.8" x2="822.6" y2="70.9" stroke="#f23645" stroke-width="1"/>
<rect x="821.0" y="60.0" width="3.2" height="3.7" fill="#f23645"/>
<line x1="826.6" y1="61.3" x2="826.6" y2="91.7" stroke="#f23645" stroke-width="1"/>
<rect x="825.0" y="63.7" width="3.2" height="23.7" fill="#f23645"/>
<line x1="830.7" y1="85.9" x2="830.7" y2="93.4" stroke="#f23645" stroke-width="1"/>
<rect x="829.1" y="87.4" width="3.2" height="3.8" fill="#f23645"/>
<line x1="834.8" y1="90.0" x2="834.8" y2="98.7" stroke="#f23645" stroke-width="1"/>
<rect x="833.2" y="91.2" width="3.2" height="3.8" fill="#f23645"/>
<line x1="838.9" y1="77.2" x2="838.9" y2="96.9" stroke="#089981" stroke-width="1"/>
<rect x="837.3" y="80.8" width="3.2" height="13.2" fill="#089981"/>
<line x1="78.3" y1="315.2" x2="108.3" y2="261.6" stroke="#7cc47e" stroke-width="2" stroke-linecap="round"/>
<line x1="108.3" y1="261.6" x2="199.3" y2="356.7" stroke="#e35d8e" stroke-width="2" stroke-linecap="round"/>
<line x1="199.3" y1="356.7" x2="361.6" y2="213.9" stroke="#7cc47e" stroke-width="2" stroke-linecap="round"/>
<line x1="361.6" y1="213.9" x2="462.7" y2="268.4" stroke="#e35d8e" stroke-width="2" stroke-linecap="round"/>
<line x1="462.7" y1="268.4" x2="504.2" y2="203.8" stroke="#7cc47e" stroke-width="2" stroke-linecap="round"/>
<line x1="504.2" y1="203.8" x2="584" y2="269" stroke="#e35d8e" stroke-width="2" stroke-linecap="round"/>
<line x1="584" y1="269" x2="823.4" y2="55.3" stroke="#7cc47e" stroke-width="2" stroke-linecap="round"/>
</g>
<line x1="78" y1="81.5" x2="869" y2="81.5" stroke="#3fae98" stroke-width="1" stroke-dasharray="1 2" opacity="0.6"/>
<rect x="869.5" y="75.8" width="23" height="11" rx="1.5" fill="#089981"/>
<text x="881.0" y="84.5" font-size="9" fill="#ffffff" text-anchor="middle" font-weight="bold" textLength="17.5" lengthAdjust="spacingAndGlyphs">IBOV</text>
<rect x="893.5" y="75.8" width="49.3" height="11" rx="1.5" fill="#089981"/>
<text x="899.3" y="84.5" font-size="9.2" fill="#ffffff" font-weight="bold" textLength="39.8" lengthAdjust="spacingAndGlyphs">181,556.76</text>
<text x="83.6" y="31.3" font-size="9.2" fill="#2a2d36" textLength="126.0" lengthAdjust="spacingAndGlyphs" stroke="#2a2d36" stroke-width="0.12">Bovespa Index · 1W · BMFBOVESPA</text>
<text x="213" y="31.3" font-size="9.2" fill="#2a2d36" stroke="#2a2d36" stroke-width="0.12" textLength="46.5" lengthAdjust="spacingAndGlyphs">O<tspan fill="#089981" stroke="#089981">176,220.82</tspan></text>
<text x="264.5" y="31.3" font-size="9.2" fill="#2a2d36" stroke="#2a2d36" stroke-width="0.12" textLength="46.5" lengthAdjust="spacingAndGlyphs">H<tspan fill="#089981" stroke="#089981">186,401.24</tspan></text>
<text x="315.7" y="31.3" font-size="9.2" fill="#2a2d36" stroke="#2a2d36" stroke-width="0.12" textLength="44" lengthAdjust="spacingAndGlyphs">L<tspan fill="#089981" stroke="#089981">176,220.82</tspan></text>
<text x="365.2" y="31.3" font-size="9.2" fill="#2a2d36" stroke="#2a2d36" stroke-width="0.12" textLength="45" lengthAdjust="spacingAndGlyphs">C<tspan fill="#089981" stroke="#089981">181,556.76</tspan></text>
<text x="415.7" y="31.3" font-size="9.2" fill="#089981" textLength="69.0" lengthAdjust="spacingAndGlyphs" stroke="#089981" stroke-width="0.12">+5,337.36 (+3.03%)</text>
<text x="83.6" y="43.3" font-size="9.2" fill="#2a2d36" textLength="434.8" lengthAdjust="spacingAndGlyphs" stroke="#2a2d36" stroke-width="0.12">Pivots (12, AUTO, 15, Left, 8, 20, Show Both, Show None, Dashed, 2, 3, hlc3, 300, 21, 0.0001, 10, close, Time, 300, 2)</text>
<g clip-path="url(#co)">
<line x1="78.5" y1="419.5" x2="893" y2="419.5" stroke="#9a9a9a" stroke-width="1" stroke-dasharray="3.8 3.7"/>
<line x1="78.5" y1="428.5" x2="893" y2="428.5" stroke="#9a9a9a" stroke-width="1" stroke-dasharray="3.8 3.7"/>
<line x1="78.5" y1="447.6" x2="893" y2="447.6" stroke="#9a9a9a" stroke-width="1" stroke-dasharray="3.8 3.7"/>
<line x1="78.5" y1="461.5" x2="893" y2="461.5" stroke="#9a9a9a" stroke-width="1" stroke-dasharray="3.8 3.7"/>
<line x1="78.5" y1="509.5" x2="893" y2="509.5" stroke="#9a9a9a" stroke-width="1" stroke-dasharray="3.8 3.7"/>
<line x1="78.5" y1="523.4" x2="893" y2="523.4" stroke="#9a9a9a" stroke-width="1" stroke-dasharray="3.8 3.7"/>
<line x1="78.5" y1="542" x2="893" y2="542" stroke="#9a9a9a" stroke-width="1" stroke-dasharray="3.8 3.7"/>
<line x1="78.5" y1="551.5" x2="893" y2="551.5" stroke="#9a9a9a" stroke-width="1" stroke-dasharray="3.8 3.7"/>
<line x1="78.5" y1="471.5" x2="893" y2="471.5" stroke="#e0407a" stroke-width="1" stroke-dasharray="3.6 3.9" opacity="0.85"/>
<line x1="78.5" y1="499.5" x2="893" y2="499.5" stroke="#e0407a" stroke-width="1" stroke-dasharray="3.6 3.9" opacity="0.85"/>
<line x1="78" y1="485.5" x2="893" y2="485.5" stroke="#d9407a" stroke-width="1"/>
<path d="M77.9,451.8 C78.2,451.8 78.9,451.9 79.8,451.8 C80.7,451.7 82.1,451.1 83.2,451.3 C84.3,451.6 85.2,453.0 86.4,453.2 C87.6,453.4 88.8,451.8 90.2,452.4 C91.6,453.1 93.6,456.2 95.0,457.0 C96.4,457.8 97.5,457.3 98.8,457.3 C100.1,457.3 101.6,456.6 102.6,456.8 C103.5,457.1 103.7,458.8 104.5,458.9 C105.3,459.0 106.5,457.3 107.3,457.4 C108.1,457.5 108.4,459.3 109.2,459.7 C110.0,460.1 111.0,458.2 112.1,459.7 C113.2,461.2 114.7,464.2 115.8,468.5 C116.9,472.8 117.8,481.9 118.7,485.5 C119.7,489.2 120.5,489.4 121.5,490.3 C122.5,491.2 123.4,489.6 124.4,491.1 C125.4,492.6 126.6,496.7 127.6,499.5 C128.5,502.3 129.4,505.8 130.1,508.2 C130.8,510.6 131.4,513.0 132.0,513.9 C132.6,514.8 133.1,514.1 133.9,513.5 C134.7,512.9 135.6,511.1 136.7,510.3 C137.8,509.5 139.6,508.9 140.5,508.5 C141.4,508.2 141.7,508.5 142.4,508.1 C143.1,507.8 143.8,507.7 144.7,506.4 C145.6,505.0 147.0,502.7 148.1,500.1 C149.2,497.6 150.2,494.1 151.0,491.2 C151.8,488.3 152.2,484.4 152.9,482.6 C153.6,480.9 154.4,482.2 155.3,480.7 C156.2,479.3 157.5,475.2 158.5,473.8 C159.5,472.5 160.3,473.4 161.4,472.6 C162.5,471.8 163.9,469.7 164.8,469.2 C165.8,468.6 166.4,468.8 167.1,469.2 C167.8,469.5 168.2,469.9 169.0,471.4 C169.8,473.0 170.6,474.8 171.8,478.6 C173.0,482.4 174.9,490.2 176.3,494.4 C177.7,498.6 178.8,500.7 180.1,503.9 C181.4,507.0 182.8,510.3 183.9,513.2 C185.0,516.1 185.2,518.5 186.5,521.2 C187.8,523.9 189.8,528.9 191.5,529.4 C193.2,529.8 195.3,525.4 196.6,523.8 C197.9,522.2 198.3,522.1 199.1,519.6 C199.9,517.1 200.8,511.4 201.6,508.9 C202.4,506.4 203.3,506.4 204.2,504.5 C205.0,502.7 205.9,500.0 206.7,497.7 C207.5,495.3 208.3,492.2 209.2,490.4 C210.0,488.6 211.0,489.0 211.8,486.9 C212.7,484.9 213.2,481.6 214.3,478.1 C215.4,474.5 216.8,468.9 218.1,465.6 C219.4,462.3 220.8,460.4 221.9,458.3 C223.0,456.3 223.7,454.1 224.4,453.3 C225.1,452.5 225.1,454.7 226.2,453.3 C227.3,451.9 229.2,447.9 230.8,444.7 C232.4,441.5 233.5,436.0 235.8,434.0 C238.1,432.0 242.2,432.6 244.7,432.9 C247.2,433.2 249.1,435.0 251.0,436.1 C252.9,437.1 254.6,439.1 256.1,439.2 C257.6,439.4 258.6,437.4 259.9,437.2 C261.2,437.1 262.4,437.9 263.7,438.4 C265.0,438.9 266.4,439.1 267.5,440.1 C268.6,441.1 269.2,442.5 270.0,444.3 C270.8,446.1 271.4,447.9 272.5,450.6 C273.6,453.4 275.2,457.4 276.3,460.9 C277.4,464.5 278.0,469.0 278.9,472.0 C279.8,475.0 280.6,476.4 281.4,479.0 C282.2,481.6 282.8,484.7 283.9,487.5 C284.9,490.3 286.4,494.1 287.7,495.9 C289.0,497.7 291.1,497.6 291.5,498.3 C291.9,498.9 289.8,499.7 290.0,499.7 C290.2,499.7 291.6,498.7 292.5,498.3 C293.4,497.8 294.2,497.3 295.1,497.0 C296.0,496.7 296.9,496.3 297.6,496.4 C298.4,496.5 298.8,497.0 299.6,497.6 C300.4,498.2 301.4,500.0 302.2,500.0 C303.0,500.0 303.8,498.1 304.7,497.5 C305.6,496.8 306.8,495.9 307.7,496.2 C308.6,496.5 309.2,498.2 310.3,499.4 C311.4,500.5 313.1,502.2 314.1,502.9 C315.2,503.7 315.6,504.3 316.6,504.2 C317.6,504.1 318.8,505.3 319.9,502.3 C320.9,499.4 322.0,489.5 322.9,486.6 C323.8,483.6 324.8,486.0 325.4,484.4 C326.0,482.9 326.1,479.3 326.7,477.0 C327.3,474.8 328.3,472.8 329.2,470.9 C330.1,469.0 330.7,470.2 331.8,465.5 C332.9,460.7 334.3,448.5 335.6,442.6 C336.9,436.7 338.1,432.3 339.4,430.1 C340.7,428.0 341.9,429.8 343.2,429.6 C344.5,429.4 345.7,429.3 347.0,428.9 C348.3,428.4 349.5,427.1 350.8,426.8 C352.1,426.5 353.3,426.6 354.6,427.1 C355.9,427.6 356.9,428.3 358.4,429.9 C359.9,431.4 361.9,433.7 363.4,436.4 C364.9,439.2 365.9,442.7 367.2,446.6 C368.5,450.5 369.7,455.2 371.0,460.0 C372.3,464.8 373.5,470.8 374.8,475.2 C376.1,479.6 377.6,483.6 378.6,486.3 C379.7,489.0 380.1,490.4 381.1,491.4 C382.2,492.4 383.4,492.3 384.9,492.4 C386.4,492.5 388.5,491.8 390.0,491.9 C391.5,492.0 392.3,492.2 393.8,492.9 C395.3,493.5 397.6,494.9 398.9,495.7 C400.2,496.4 400.1,496.9 401.4,497.5 C402.7,498.0 404.9,498.4 406.5,499.2 C408.1,499.9 410.0,501.0 411.0,501.9 C412.0,502.8 411.9,504.2 412.5,504.7 C413.1,505.2 414.0,504.6 414.6,504.7 C415.2,504.8 415.6,505.6 416.3,505.6 C417.0,505.6 418.0,504.9 418.9,504.7 C419.8,504.6 420.6,504.7 421.4,504.9 C422.2,505.0 422.8,507.0 423.9,505.5 C424.9,503.9 426.4,499.2 427.7,495.6 C429.0,491.9 430.4,487.2 431.5,483.4 C432.6,479.7 433.2,474.5 434.1,473.3 C435.0,472.2 435.8,475.6 436.6,476.6 C437.4,477.6 438.1,477.9 439.1,479.5 C440.1,481.1 441.4,484.7 442.4,486.4 C443.4,488.0 444.0,487.0 444.9,489.4 C445.8,491.9 446.6,497.2 447.5,501.1 C448.4,504.9 449.4,508.1 450.5,512.6 C451.6,517.2 453.0,526.1 454.3,528.1 C455.6,530.1 456.8,527.1 458.1,524.6 C459.4,522.0 460.8,517.7 461.9,512.9 C462.9,508.1 463.3,501.7 464.4,495.7 C465.4,489.7 466.9,482.3 468.2,476.7 C469.5,471.1 470.8,466.1 472.0,462.3 C473.2,458.4 474.2,455.2 475.3,453.6 C476.4,452.0 477.2,453.1 478.4,452.6 C479.5,452.2 480.9,451.6 482.2,451.1 C483.4,450.5 484.8,450.2 485.9,449.6 C486.9,448.9 487.6,447.5 488.5,447.1 C489.4,446.6 490.2,447.4 491.0,447.1 C491.8,446.7 492.4,446.4 493.5,444.8 C494.6,443.3 495.6,438.8 497.3,437.7 C499.0,436.7 502.0,436.4 503.7,438.6 C505.4,440.8 506.2,448.6 507.5,451.1 C508.8,453.6 510.2,452.4 511.3,453.6 C512.4,454.8 513.0,457.4 513.8,458.4 C514.6,459.4 515.4,459.0 516.3,459.7 C517.1,460.3 518.0,461.0 518.9,462.2 C519.8,463.5 520.3,463.7 521.4,467.3 C522.5,470.8 523.9,478.9 525.2,483.5 C526.5,488.2 528.0,491.7 529.0,495.1 C530.0,498.5 530.6,502.4 531.5,503.8 C532.4,505.2 533.1,502.6 534.1,503.8 C535.1,505.0 538.1,510.9 537.8,510.9 C537.5,510.9 532.8,503.8 532.5,503.8 C532.2,503.8 535.0,508.8 536.3,510.9 C537.6,513.1 538.8,514.9 540.1,516.6 C541.4,518.3 542.6,520.6 543.9,521.1 C545.2,521.7 546.6,520.5 547.7,519.9 C548.8,519.2 549.4,518.1 550.3,517.5 C551.2,516.9 552.2,516.3 553.3,516.5 C554.3,516.6 555.4,517.7 556.6,518.4 C557.8,519.0 559.1,518.5 560.4,520.3 C561.7,522.0 562.9,526.8 564.2,528.9 C565.5,531.0 567.0,531.7 568.0,532.8 C569.0,533.9 569.7,534.9 570.5,535.6 C571.3,536.2 572.0,536.6 573.0,536.8 C574.0,537.1 575.5,538.3 576.8,537.0 C578.1,535.7 579.5,530.8 580.6,529.0 C581.7,527.2 582.3,529.0 583.2,526.2 C584.1,523.5 585.2,515.5 586.2,512.4 C587.2,509.3 588.3,512.1 589.5,507.6 C590.7,503.0 592.2,489.6 593.3,485.0 C594.4,480.5 595.2,482.5 596.3,480.2 C597.3,478.0 598.6,472.1 599.6,471.3 C600.6,470.5 601.2,474.7 602.2,475.2 C603.2,475.7 604.9,474.6 605.9,474.5 C606.9,474.3 607.6,475.7 608.5,474.5 C609.4,473.3 610.0,469.1 611.0,467.3 C612.0,465.5 613.5,465.4 614.8,463.9 C616.1,462.4 617.3,459.3 618.6,458.2 C619.9,457.1 621.2,457.1 622.4,457.2 C623.6,457.3 624.7,457.9 625.7,458.9 C626.7,459.8 627.4,462.1 628.2,463.0 C629.1,464.0 629.7,464.6 630.8,464.3 C631.9,464.1 633.5,462.1 634.6,461.5 C635.7,460.9 636.7,461.8 637.6,460.8 C638.5,459.7 639.2,457.0 640.1,454.9 C641.0,452.8 641.6,450.7 642.7,448.1 C643.8,445.5 645.2,442.2 646.5,439.4 C647.8,436.6 649.7,432.7 650.3,431.4 C650.9,430.0 649.2,431.1 650.0,431.4 C650.8,431.6 653.4,431.0 655.1,432.6 C656.8,434.3 658.4,438.9 660.1,441.1 C661.8,443.3 663.7,444.9 665.2,445.9 C666.7,446.8 667.7,446.0 669.0,446.8 C670.3,447.6 671.5,450.6 672.8,450.6 C674.1,450.6 675.3,445.8 676.6,446.8 C677.9,447.9 679.2,453.0 680.4,456.9 C681.6,460.9 682.7,466.2 683.7,470.7 C684.8,475.1 685.8,481.4 686.7,483.5 C687.6,485.7 688.4,481.7 689.2,483.5 C690.1,485.4 690.7,491.2 691.8,494.7 C692.9,498.2 694.3,501.9 695.6,504.4 C696.9,507.0 698.1,511.0 699.4,510.1 C700.7,509.2 701.9,503.6 703.2,499.0 C704.5,494.4 705.7,488.3 707.0,482.5 C708.3,476.8 709.5,469.1 710.8,464.3 C712.1,459.5 713.5,457.0 714.6,453.9 C715.7,450.9 716.1,448.9 717.1,446.1 C718.1,443.2 719.6,438.8 720.9,436.7 C722.2,434.7 723.4,433.7 724.7,433.7 C726.0,433.7 727.2,434.9 728.5,436.7 C729.8,438.6 730.8,443.1 732.3,444.8 C733.8,446.6 735.8,446.2 737.3,447.1 C738.8,448.0 739.8,449.0 741.1,450.4 C742.4,451.8 743.4,455.5 744.9,455.4 C746.4,455.3 748.3,454.2 750.0,449.7 C751.7,445.2 753.2,431.7 755.1,428.3 C757.0,425.0 759.7,428.9 761.4,429.4 C763.1,430.0 763.9,431.1 765.2,431.5 C766.5,431.9 769.9,432.2 769.0,431.9 C768.1,431.5 761.1,429.9 760.0,429.4 C758.9,429.0 761.6,428.8 762.5,429.1 C763.4,429.5 764.2,431.1 765.1,431.5 C766.0,431.9 766.6,431.0 767.6,431.5 C768.6,432.0 770.4,433.6 771.4,434.5 C772.4,435.3 772.8,436.1 773.9,436.5 C775.0,437.0 776.4,436.2 777.7,437.1 C779.0,438.1 780.2,442.0 781.5,442.3 C782.8,442.5 783.8,439.2 785.3,438.7 C786.8,438.3 788.9,440.3 790.4,439.6 C791.9,438.8 792.5,436.6 794.2,434.2 C795.9,431.7 798.4,427.1 800.5,424.9 C802.6,422.7 804.7,422.3 806.8,420.7 C808.9,419.1 811.3,414.5 813.2,415.2 C815.1,416.0 816.7,422.4 818.2,425.1 C819.7,427.8 820.9,429.9 822.0,431.4 C823.1,433.0 823.8,432.8 824.6,434.4 C825.5,436.1 826.1,438.4 827.1,441.2 C828.1,443.9 829.5,447.2 830.9,450.8 C832.3,454.5 834.1,460.9 835.4,463.0 C836.7,465.2 837.8,463.8 838.5,463.9 C839.2,464.1 839.5,463.9 839.7,463.9" fill="none" stroke="#a9d8a4" stroke-width="2" opacity="0.55"/>
<path d="M82.9,451.3 C83.2,451.3 83.9,451.0 84.8,451.3 C85.7,451.6 87.1,453.1 88.2,453.2 C89.3,453.3 90.2,451.8 91.4,451.9 C92.6,452.0 93.8,453.1 95.2,453.8 C96.6,454.5 98.6,455.5 100.0,456.3 C101.4,457.1 102.5,458.4 103.8,458.6 C105.1,458.7 106.6,457.2 107.6,457.1 C108.5,457.0 108.7,457.7 109.5,458.1 C110.3,458.4 111.5,458.4 112.3,459.1 C113.1,459.8 113.4,460.8 114.2,462.2 C115.0,463.6 116.0,465.4 117.1,467.5 C118.2,469.6 119.7,472.8 120.8,474.8 C121.9,476.8 122.8,477.6 123.7,479.5 C124.7,481.5 125.5,484.1 126.5,486.7 C127.5,489.2 128.4,492.5 129.4,494.8 C130.4,497.1 131.7,498.3 132.6,500.3 C133.5,502.3 134.4,505.9 135.1,506.8 C135.8,507.7 136.4,505.2 137.0,505.6 C137.6,506.1 138.1,508.8 138.9,509.4 C139.7,510.1 140.6,510.1 141.7,509.5 C142.8,509.0 144.6,507.2 145.5,506.2 C146.4,505.1 146.7,504.3 147.4,503.3 C148.1,502.2 148.8,501.4 149.7,500.0 C150.6,498.6 152.0,497.0 153.1,495.0 C154.2,492.9 155.2,488.8 156.0,487.6 C156.8,486.3 157.2,488.5 157.9,487.6 C158.6,486.6 159.4,483.1 160.3,481.8 C161.2,480.4 162.5,480.0 163.5,479.3 C164.5,478.7 165.3,478.3 166.4,477.9 C167.5,477.5 168.9,477.3 169.8,476.9 C170.8,476.4 171.4,475.5 172.1,475.2 C172.8,474.9 173.2,474.5 174.0,475.2 C174.8,475.9 175.6,477.0 176.8,479.6 C178.0,482.2 179.9,487.4 181.3,490.9 C182.7,494.4 183.8,497.2 185.1,500.8 C186.4,504.3 187.8,509.1 188.9,512.0 C190.0,514.8 190.2,516.1 191.5,517.7 C192.8,519.3 194.8,521.7 196.5,521.4 C198.2,521.0 200.3,517.5 201.6,515.8 C202.9,514.0 203.3,512.4 204.1,510.7 C204.9,509.0 205.8,506.7 206.6,505.3 C207.4,504.0 208.3,503.5 209.2,502.4 C210.0,501.3 210.9,500.2 211.7,499.0 C212.5,497.9 213.3,497.4 214.2,495.4 C215.0,493.5 216.0,490.1 216.8,487.3 C217.7,484.5 218.2,481.3 219.3,478.6 C220.4,475.9 221.8,474.5 223.1,471.2 C224.4,467.9 225.8,461.1 226.9,458.9 C228.0,456.6 228.7,458.4 229.4,457.7 C230.1,457.0 230.1,456.4 231.2,454.7 C232.3,453.0 234.2,449.3 235.8,447.3 C237.4,445.3 238.5,444.6 240.8,442.5 C243.1,440.4 247.2,435.6 249.7,434.8 C252.2,434.0 254.1,437.4 256.0,437.7 C257.9,438.0 259.6,436.5 261.1,436.5 C262.6,436.5 263.6,437.4 264.9,437.8 C266.2,438.2 267.4,437.4 268.7,439.1 C270.0,440.8 271.4,445.5 272.5,448.1 C273.6,450.7 274.2,453.5 275.0,454.9 C275.8,456.4 276.4,454.9 277.5,456.8 C278.6,458.7 280.2,463.7 281.3,466.4 C282.4,469.2 283.0,471.7 283.9,473.4 C284.8,475.2 285.6,475.4 286.4,476.9 C287.2,478.4 287.8,480.3 288.9,482.5 C289.9,484.7 291.4,487.7 292.7,489.9 C294.0,492.1 296.1,495.4 296.5,495.7 C296.9,495.9 294.8,491.2 295.0,491.2 C295.2,491.2 296.6,494.5 297.5,495.7 C298.4,496.9 299.2,497.6 300.1,498.3 C301.0,499.0 301.9,499.8 302.6,499.8 C303.4,499.8 303.8,498.6 304.6,498.3 C305.4,497.9 306.4,498.0 307.2,497.8 C308.0,497.7 308.8,497.1 309.7,497.5 C310.6,497.8 311.8,499.5 312.7,499.9 C313.6,500.3 314.2,499.4 315.3,499.9 C316.4,500.3 318.1,503.1 319.1,502.5 C320.2,502.0 320.6,498.6 321.6,496.5 C322.6,494.3 323.8,491.9 324.9,489.6 C325.9,487.4 327.0,485.4 327.9,483.0 C328.8,480.7 329.8,476.9 330.4,475.7 C331.0,474.5 331.1,477.0 331.7,475.7 C332.3,474.4 333.3,469.5 334.2,468.0 C335.1,466.4 335.7,468.1 336.8,466.2 C337.9,464.4 339.3,460.0 340.6,456.8 C341.9,453.7 343.1,451.6 344.4,447.4 C345.7,443.2 346.9,435.0 348.2,431.8 C349.5,428.6 350.7,429.1 352.0,428.4 C353.3,427.7 354.5,427.4 355.8,427.5 C357.1,427.6 358.3,427.8 359.6,428.9 C360.9,430.1 361.9,432.4 363.4,434.5 C364.9,436.6 366.9,437.9 368.4,441.6 C369.9,445.2 370.9,452.5 372.2,456.5 C373.5,460.4 374.7,462.9 376.0,465.4 C377.3,467.8 378.5,468.9 379.8,471.4 C381.1,473.9 382.6,478.9 383.6,480.5 C384.7,482.0 385.1,479.9 386.1,480.9 C387.2,481.8 388.4,484.3 389.9,486.4 C391.4,488.5 393.5,491.9 395.0,493.7 C396.5,495.4 397.3,496.3 398.8,496.9 C400.3,497.5 402.6,497.3 403.9,497.1 C405.2,497.0 405.1,495.6 406.4,495.9 C407.7,496.1 409.9,497.3 411.5,498.7 C413.1,500.2 415.0,503.6 416.0,504.6 C417.0,505.5 416.9,504.4 417.5,504.6 C418.1,504.7 419.0,505.5 419.6,505.7 C420.2,505.9 420.6,506.0 421.3,505.6 C422.0,505.2 423.0,504.5 423.9,503.4 C424.8,502.3 425.6,500.2 426.4,498.9 C427.2,497.7 427.8,497.2 428.9,496.0 C429.9,494.9 431.4,493.3 432.7,492.1 C434.0,490.9 435.4,489.2 436.5,488.8 C437.6,488.4 438.2,489.3 439.1,489.6 C440.0,489.9 440.8,490.9 441.6,490.6 C442.4,490.2 443.1,487.2 444.1,487.4 C445.1,487.6 446.4,490.2 447.4,491.6 C448.4,493.0 449.0,495.0 449.9,495.9 C450.8,496.8 451.6,496.1 452.5,497.3 C453.4,498.4 454.4,501.0 455.5,502.8 C456.6,504.5 458.0,507.1 459.3,507.7 C460.6,508.4 461.8,508.5 463.1,506.9 C464.4,505.3 465.8,500.6 466.9,498.2 C467.9,495.9 468.3,494.8 469.4,492.5 C470.4,490.2 471.9,487.0 473.2,484.4 C474.5,481.8 475.8,479.4 477.0,476.8 C478.2,474.2 479.2,471.9 480.3,468.9 C481.4,466.0 482.2,462.0 483.4,459.1 C484.5,456.1 485.9,453.3 487.2,451.2 C488.4,449.1 489.8,447.4 490.9,446.5 C491.9,445.7 492.6,446.3 493.5,446.0 C494.4,445.8 495.2,445.4 496.0,445.2 C496.8,445.1 497.4,445.3 498.5,444.9 C499.6,444.6 500.6,443.6 502.3,443.4 C504.0,443.1 507.0,442.5 508.7,443.5 C510.4,444.5 511.2,447.8 512.5,449.5 C513.8,451.2 515.2,452.4 516.3,453.6 C517.3,454.7 518.0,455.5 518.8,456.3 C519.6,457.1 520.4,456.2 521.3,458.5 C522.1,460.8 523.0,467.6 523.9,470.2 C524.8,472.9 525.3,472.0 526.4,474.2 C527.5,476.5 528.9,480.5 530.2,483.8 C531.5,487.0 533.0,491.5 534.0,493.9 C535.0,496.3 535.6,496.8 536.5,498.4 C537.4,500.0 538.1,501.8 539.1,503.5 C540.1,505.1 543.1,509.3 542.8,508.4 C542.5,507.6 537.8,498.4 537.5,498.4 C537.2,498.4 540.0,506.2 541.3,508.4 C542.6,510.7 543.8,510.6 545.1,511.9 C546.4,513.1 547.6,514.8 548.9,515.9 C550.2,517.0 551.6,517.8 552.7,518.5 C553.8,519.2 554.4,519.5 555.3,519.9 C556.2,520.3 557.2,520.4 558.3,520.7 C559.3,521.1 560.4,521.4 561.6,522.0 C562.8,522.5 564.1,523.3 565.4,524.1 C566.7,524.8 567.9,525.1 569.2,526.5 C570.5,527.9 572.0,531.6 573.0,532.5 C574.0,533.5 574.7,532.4 575.5,532.1 C576.3,531.9 577.0,531.3 578.0,530.9 C579.0,530.4 580.5,530.7 581.8,529.5 C583.1,528.2 584.5,525.4 585.6,523.6 C586.7,521.7 587.3,520.3 588.2,518.5 C589.1,516.7 590.2,515.2 591.2,512.6 C592.2,510.0 593.3,506.1 594.5,502.9 C595.7,499.7 597.2,496.1 598.3,493.2 C599.4,490.4 600.2,487.6 601.3,485.8 C602.3,484.0 603.6,483.5 604.6,482.4 C605.6,481.3 606.2,480.9 607.2,479.0 C608.2,477.2 609.9,473.4 610.9,471.4 C611.9,469.5 612.6,468.1 613.5,467.1 C614.4,466.0 615.0,466.2 616.0,465.0 C617.0,463.9 618.5,460.3 619.8,460.1 C621.1,459.9 622.3,462.6 623.6,463.9 C624.9,465.1 626.2,467.5 627.4,467.4 C628.6,467.2 629.7,463.9 630.7,462.8 C631.7,461.8 632.4,462.3 633.2,461.2 C634.1,460.0 634.7,456.9 635.8,456.0 C636.9,455.1 638.5,456.2 639.6,455.7 C640.7,455.2 641.7,453.0 642.6,452.8 C643.5,452.5 644.2,454.5 645.1,454.1 C646.0,453.8 646.6,452.1 647.7,450.5 C648.8,448.9 650.2,446.6 651.5,444.7 C652.8,442.8 654.7,440.1 655.3,439.2 C655.9,438.3 654.2,439.6 655.0,439.2 C655.8,438.8 658.4,436.8 660.1,436.7 C661.8,436.6 663.4,437.4 665.1,438.6 C666.8,439.7 668.7,442.5 670.2,443.7 C671.7,444.8 672.7,445.0 674.0,445.6 C675.3,446.1 676.5,445.6 677.8,447.1 C679.1,448.7 680.3,452.0 681.6,455.1 C682.9,458.1 684.2,462.0 685.4,465.3 C686.6,468.6 687.7,472.3 688.7,474.8 C689.8,477.3 690.8,478.7 691.7,480.3 C692.6,481.9 693.4,483.2 694.2,484.7 C695.1,486.1 695.7,487.7 696.8,488.9 C697.9,490.2 699.3,490.7 700.6,492.2 C701.9,493.7 703.1,498.4 704.4,497.9 C705.7,497.4 706.9,493.0 708.2,489.3 C709.5,485.6 710.7,479.9 712.0,475.9 C713.3,472.0 714.5,469.3 715.8,465.5 C717.1,461.7 718.5,455.4 719.6,453.3 C720.7,451.3 721.1,454.5 722.1,453.3 C723.1,452.2 724.6,448.3 725.9,446.4 C727.2,444.5 728.4,442.6 729.7,441.9 C731.0,441.2 732.2,441.6 733.5,442.1 C734.8,442.6 735.8,444.2 737.3,444.9 C738.8,445.5 740.8,446.4 742.3,446.1 C743.8,445.9 744.8,443.4 746.1,443.4 C747.4,443.4 748.4,446.8 749.9,446.2 C751.4,445.6 753.3,441.5 755.0,440.0 C756.7,438.5 758.2,438.5 760.1,437.2 C762.0,435.8 764.7,433.0 766.4,432.0 C768.1,431.0 768.9,431.2 770.2,431.3 C771.5,431.4 774.9,432.5 774.0,432.6 C773.1,432.7 766.1,432.1 765.0,432.0 C763.9,431.9 766.6,432.1 767.5,432.0 C768.4,431.9 769.2,431.2 770.1,431.3 C771.0,431.4 771.6,432.1 772.6,432.6 C773.6,433.0 775.4,433.7 776.4,434.0 C777.4,434.2 777.8,433.4 778.9,434.0 C780.0,434.5 781.4,437.1 782.7,437.5 C784.0,437.8 785.2,435.7 786.5,435.9 C787.8,436.0 788.8,438.0 790.3,438.1 C791.8,438.2 793.9,437.2 795.4,436.5 C796.9,435.8 797.5,435.7 799.2,434.0 C800.9,432.3 803.4,428.7 805.5,426.3 C807.6,424.0 809.7,420.3 811.8,420.0 C813.9,419.7 816.3,422.8 818.2,424.4 C820.1,426.1 821.7,427.7 823.2,429.9 C824.7,432.1 825.9,435.9 827.0,437.6 C828.1,439.4 828.8,439.6 829.6,440.4 C830.5,441.1 831.1,441.5 832.1,442.3 C833.1,443.2 834.5,444.2 835.9,445.6 C837.3,447.0 839.1,449.0 840.4,450.8 C841.7,452.7 842.8,454.7 843.5,456.8 C844.2,458.8 844.5,462.0 844.7,463.0" fill="none" stroke="#f6c1a6" stroke-width="1.5" opacity="0.6"/>
<path d="M85.0,485.5 C86.2,484.6 90.3,481.7 92.5,480.2 C94.7,478.7 96.3,477.4 98.2,476.5 C100.1,475.6 101.7,476.1 103.9,475.0 C106.1,473.8 109.0,471.3 111.5,469.6 C114.0,467.9 117.2,466.2 119.1,465.0 C121.0,463.9 121.5,463.0 122.8,462.8 C124.0,462.6 125.0,462.7 126.6,463.6 C128.2,464.5 130.4,466.6 132.3,468.1 C134.2,469.6 136.1,471.2 138.0,472.6 C139.9,474.0 141.8,474.7 143.7,476.5 C145.6,478.3 147.5,481.5 149.4,483.3 C151.3,485.1 153.2,486.1 155.1,487.1 C157.0,488.1 158.9,489.1 160.8,489.4 C162.7,489.6 164.3,489.1 166.5,488.6 C168.7,488.1 172.0,486.8 174.1,486.3 C176.2,485.9 176.4,485.0 179.0,486.0 C181.6,487.0 185.8,490.0 189.7,492.2 C193.6,494.4 198.7,497.7 202.3,499.2 C205.9,500.7 208.0,501.5 211.2,501.2 C214.4,500.9 217.7,498.5 221.3,497.2 C224.9,495.9 228.9,495.3 232.7,493.1 C236.5,490.9 239.8,487.2 244.0,484.0 C248.2,480.8 253.6,476.6 258.0,473.9 C262.4,471.2 266.5,469.8 270.7,467.8 C274.9,465.9 279.5,461.8 283.3,462.2 C287.1,462.5 289.9,467.7 293.5,469.8 C297.1,472.0 301.5,473.6 304.6,475.0 C307.7,476.3 309.2,476.5 312.2,478.0 C315.1,479.5 319.4,482.1 322.3,484.0 C325.2,485.9 327.8,487.8 329.9,489.1 C332.0,490.4 333.1,491.9 335.0,491.8 C336.9,491.6 339.2,489.7 341.3,488.1 C343.4,486.5 345.3,484.2 347.6,482.0 C349.9,479.8 352.7,477.3 355.2,475.0 C357.7,472.6 360.1,469.8 362.8,467.8 C365.6,465.9 369.2,463.7 371.7,463.4 C374.2,463.0 375.7,464.6 378.0,465.8 C380.3,467.1 383.1,469.5 385.6,470.9 C388.1,472.3 391.1,473.5 393.2,474.3 C395.3,475.2 395.8,475.5 398.3,475.9 C400.8,476.4 405.4,476.5 408.4,477.0 C411.3,477.5 413.3,477.8 416.0,479.0 C418.7,480.1 421.9,482.1 424.6,484.0 C427.3,485.9 429.9,488.5 432.2,490.1 C434.5,491.7 436.4,493.3 438.5,493.8 C440.6,494.3 442.5,493.5 444.8,493.1 C447.1,492.8 449.9,491.4 452.4,491.8 C454.9,492.1 457.7,493.8 460.0,495.2 C462.3,496.6 464.6,499.0 466.4,500.2 C468.2,501.5 468.8,503.1 470.7,502.6 C472.6,502.1 475.4,499.5 477.8,497.2 C480.2,494.9 482.9,491.7 485.4,489.1 C487.9,486.6 490.5,483.9 493.0,482.0 C495.5,480.1 498.0,479.5 500.5,478.0 C503.0,476.5 505.6,474.6 508.1,472.9 C510.6,471.1 513.8,468.5 515.7,467.4 C517.6,466.4 517.8,466.6 519.5,466.8 C521.2,467.0 523.6,468.0 525.9,468.9 C528.2,469.7 531.0,470.7 533.5,471.9 C536.0,473.1 538.7,474.7 541.0,475.9 C543.3,477.1 544.4,477.3 547.1,479.0 C549.8,480.7 553.9,483.5 557.3,486.1 C560.7,488.6 564.0,491.8 567.4,494.2 C570.8,496.5 574.1,498.2 577.5,500.2 C580.9,502.3 585.1,505.1 587.6,506.3 C590.1,507.6 590.5,508.1 592.2,507.8 C593.9,507.4 595.6,506.1 597.8,504.3 C600.0,502.6 602.9,499.4 605.4,497.2 C607.9,495.0 610.5,492.8 613.0,491.1 C615.5,489.4 618.0,488.4 620.5,487.0 C623.0,485.7 625.4,484.5 628.1,483.0 C630.9,481.5 634.5,478.7 637.0,478.0 C639.5,477.3 641.0,479.5 643.3,479.0 C645.6,478.5 648.4,476.5 650.9,475.0 C653.4,473.4 656.4,471.2 658.5,469.8 C660.6,468.5 661.2,468.0 663.3,466.8 C665.4,465.6 668.6,463.0 670.9,462.8 C673.2,462.6 675.0,465.3 677.3,465.8 C679.6,466.3 682.1,466.1 684.8,465.8 C687.5,465.6 691.0,463.7 693.7,464.2 C696.5,464.7 698.8,467.1 701.3,468.9 C703.8,470.7 706.8,473.6 708.9,475.0 C711.0,476.3 712.1,476.7 714.0,477.0 C715.9,477.2 718.2,477.1 720.3,476.6 C722.4,476.0 724.3,475.0 726.6,473.5 C728.9,472.1 731.5,470.0 734.2,467.8 C737.0,465.7 740.6,461.1 743.1,460.7 C745.6,460.4 747.3,464.5 749.4,465.8 C751.5,467.2 753.4,468.9 755.7,468.9 C758.0,468.9 760.4,467.2 763.3,465.8 C766.2,464.5 770.4,462.4 773.3,460.7 C776.2,459.0 778.6,456.0 780.9,455.7 C783.2,455.3 785.2,457.7 787.3,458.7 C789.4,459.7 791.3,461.6 793.6,461.8 C795.9,461.9 798.5,460.9 801.2,459.8 C803.9,458.6 807.3,456.5 810.0,454.6 C812.7,452.8 815.7,450.7 817.6,448.6 C819.5,446.4 819.9,443.4 821.4,441.5 C822.9,439.7 825.0,439.0 826.5,437.4 C828.0,435.9 829.0,431.1 830.3,432.4 C831.6,433.7 832.6,440.8 834.1,445.5 C835.6,450.2 837.7,457.2 839.2,460.7 C840.7,464.3 841.8,465.2 843.0,466.8 C844.2,468.4 846.1,469.7 846.7,470.2" fill="none" stroke="#a9bdf0" stroke-width="1.3" opacity="0.55"/>
<rect x="259" y="409.2" width="20.8" height="11.3" fill="#f7a3a8" opacity="0.7"/>
<line x1="262.0" y1="409.2" x2="262.0" y2="420.5" stroke="#ef7c86" stroke-width="0.6" opacity="0.6"/>
<line x1="266.1" y1="409.2" x2="266.1" y2="420.5" stroke="#ef7c86" stroke-width="0.6" opacity="0.6"/>
<line x1="270.1" y1="409.2" x2="270.1" y2="420.5" stroke="#ef7c86" stroke-width="0.6" opacity="0.6"/>
<line x1="274.2" y1="409.2" x2="274.2" y2="420.5" stroke="#ef7c86" stroke-width="0.6" opacity="0.6"/>
<line x1="278.2" y1="409.2" x2="278.2" y2="420.5" stroke="#ef7c86" stroke-width="0.6" opacity="0.6"/>
<rect x="362.9" y="409.5" width="10.6" height="10.0" fill="#f7a3a8" opacity="0.7"/>
<line x1="365.9" y1="409.5" x2="365.9" y2="419.5" stroke="#ef7c86" stroke-width="0.6" opacity="0.6"/>
<line x1="370.0" y1="409.5" x2="370.0" y2="419.5" stroke="#ef7c86" stroke-width="0.6" opacity="0.6"/>
<rect x="766" y="409.4" width="16.3" height="11.2" fill="#f7a3a8" opacity="0.7"/>
<line x1="769.0" y1="409.4" x2="769.0" y2="420.6" stroke="#ef7c86" stroke-width="0.6" opacity="0.6"/>
<line x1="773.1" y1="409.4" x2="773.1" y2="420.6" stroke="#ef7c86" stroke-width="0.6" opacity="0.6"/>
<line x1="777.1" y1="409.4" x2="777.1" y2="420.6" stroke="#ef7c86" stroke-width="0.6" opacity="0.6"/>
<line x1="781.2" y1="409.4" x2="781.2" y2="420.6" stroke="#ef7c86" stroke-width="0.6" opacity="0.6"/>
<rect x="819.5" y="409" width="8.3" height="11.0" fill="#f7a3a8" opacity="0.7"/>
<line x1="822.5" y1="409" x2="822.5" y2="420" stroke="#ef7c86" stroke-width="0.6" opacity="0.6"/>
<line x1="826.6" y1="409" x2="826.6" y2="420" stroke="#ef7c86" stroke-width="0.6" opacity="0.6"/>
<rect x="798" y="419" width="34" height="9" fill="#f48a8a" opacity="0.35"/>
<polygon points="797.8,419 806.2,419 802,428" fill="#f03c3c" opacity="0.55"/>
<polygon points="801.8,419 810.2,419 806,428" fill="#f03c3c" opacity="0.55"/>
<polygon points="805.8,419 814.2,419 810,428" fill="#f03c3c" opacity="0.55"/>
<polygon points="809.8,419 818.2,419 814,428" fill="#f03c3c" opacity="0.55"/>
<polygon points="813.8,419 822.2,419 818,428" fill="#f03c3c" opacity="0.55"/>
<polygon points="817.8,419 826.2,419 822,428" fill="#f03c3c" opacity="0.55"/>
<polygon points="821.8,419 830.2,419 826,428" fill="#f03c3c" opacity="0.55"/>
<polygon points="825.8,419 834.2,419 830,428" fill="#f03c3c" opacity="0.55"/>
<rect x="561.7" y="541.8" width="25" height="13.3" rx="3" fill="#d3d5f6"/>
<line x1="566" y1="542" x2="566" y2="555" stroke="#b4b8ee" stroke-width="0.6"/>
<line x1="570" y1="542" x2="570" y2="555" stroke="#b4b8ee" stroke-width="0.6"/>
<line x1="574" y1="542" x2="574" y2="555" stroke="#b4b8ee" stroke-width="0.6"/>
<line x1="578" y1="542" x2="578" y2="555" stroke="#b4b8ee" stroke-width="0.6"/>
<line x1="582" y1="542" x2="582" y2="555" stroke="#b4b8ee" stroke-width="0.6"/>
<polygon points="74.2,541.3 79.5,536 84.8,541.3 79.5,546.6" fill="#1ee61e"/>
<polygon points="78.2,541.3 83.5,536 88.8,541.3 83.5,546.6" fill="#1ee61e"/>
<polygon points="93.7,541.3 99.0,536 104.3,541.3 99.0,546.6" fill="#ff980a"/>
<polygon points="97.7,541.3 103.0,536 108.3,541.3 103.0,546.6" fill="#ff980a"/>
<polygon points="106.7,541.3 112.0,536 117.3,541.3 112.0,546.6" fill="#ff980a"/>
<polygon points="160.0,541.3 165.3,536 170.6,541.3 165.3,546.6" fill="#ff980a"/>
<polygon points="164.1,541.3 169.4,536 174.7,541.3 169.4,546.6" fill="#ff980a"/>
<polygon points="237.0,541.3 242.3,536 247.6,541.3 242.3,546.6" fill="#1ee61e"/>
<polygon points="241.1,541.3 246.4,536 251.7,541.3 246.4,546.6" fill="#1ee61e"/>
<polygon points="245.2,541.3 250.5,536 255.8,541.3 250.5,546.6" fill="#1ee61e"/>
<polygon points="273.1,541.3 278.4,536 283.7,541.3 278.4,546.6" fill="#ff980a"/>
<polygon points="277.2,541.3 282.5,536 287.8,541.3 282.5,546.6" fill="#ff980a"/>
<polygon points="281.3,541.3 286.6,536 291.9,541.3 286.6,546.6" fill="#ff980a"/>
<polygon points="285.3,541.3 290.6,536 295.9,541.3 290.6,546.6" fill="#ff980a"/>
<polygon points="342.2,541.3 347.5,536 352.8,541.3 347.5,546.6" fill="#1ee61e"/>
<polygon points="346.2,541.3 351.5,536 356.8,541.3 351.5,546.6" fill="#1ee61e"/>
<polygon points="350.3,541.3 355.6,536 360.9,541.3 355.6,546.6" fill="#1ee61e"/>
<polygon points="354.3,541.3 359.6,536 364.9,541.3 359.6,546.6" fill="#1ee61e"/>
<polygon points="404.7,541.3 410.0,536 415.3,541.3 410.0,546.6" fill="#ff980a"/>
<polygon points="408.8,541.3 414.1,536 419.4,541.3 414.1,546.6" fill="#ff980a"/>
<polygon points="412.8,541.3 418.1,536 423.4,541.3 418.1,546.6" fill="#ff980a"/>
<polygon points="453.8,541.3 459.1,536 464.4,541.3 459.1,546.6" fill="#1ee61e"/>
<polygon points="457.9,541.3 463.2,536 468.5,541.3 463.2,546.6" fill="#1ee61e"/>
<polygon points="470.4,541.3 475.7,536 481.0,541.3 475.7,546.6" fill="#1ee61e"/>
<polygon points="474.0,541.3 479.3,536 484.6,541.3 479.3,546.6" fill="#1ee61e"/>
<polygon points="487.0,541.3 492.3,536 497.6,541.3 492.3,546.6" fill="#1ee61e"/>
<polygon points="491.0,541.3 496.3,536 501.6,541.3 496.3,546.6" fill="#1ee61e"/>
<polygon points="495.0,541.3 500.3,536 505.6,541.3 500.3,546.6" fill="#1ee61e"/>
<polygon points="498.9,541.3 504.2,536 509.5,541.3 504.2,546.6" fill="#1ee61e"/>
<polygon points="531.5,541.3 536.8,536 542.1,541.3 536.8,546.6" fill="#ff980a"/>
<polygon points="556.0,541.3 561.3,536 566.6,541.3 561.3,546.6" fill="#ff980a"/>
<polygon points="617.4,541.3 622.7,536 628.0,541.3 622.7,546.6" fill="#1ee61e"/>
<polygon points="645.8,541.3 651.1,536 656.4,541.3 651.1,546.6" fill="#1ee61e"/>
<polygon points="650.4,541.3 655.7,536 661.0,541.3 655.7,546.6" fill="#1ee61e"/>
<polygon points="678.6,541.3 683.9,536 689.2,541.3 683.9,546.6" fill="#ff980a"/>
<polygon points="683.6,541.3 688.9,536 694.2,541.3 688.9,546.6" fill="#ff980a"/>
<polygon points="732.0,541.3 737.3,536 742.6,541.3 737.3,546.6" fill="#1ee61e"/>
<polygon points="755.5,541.3 760.8,536 766.1,541.3 760.8,546.6" fill="#1ee61e"/>
<polygon points="759.7,541.3 765.0,536 770.3,541.3 765.0,546.6" fill="#1ee61e"/>
<polygon points="764.0,541.3 769.3,536 774.6,541.3 769.3,546.6" fill="#1ee61e"/>
<polygon points="768.3,541.3 773.6,536 778.9,541.3 773.6,546.6" fill="#1ee61e"/>
<polygon points="772.5,541.3 777.8,536 783.1,541.3 777.8,546.6" fill="#1ee61e"/>
<polygon points="776.8,541.3 782.1,536 787.4,541.3 782.1,546.6" fill="#1ee61e"/>
<polygon points="801.0,541.3 806.3,536 811.6,541.3 806.3,546.6" fill="#1ee61e"/>
<polygon points="805.2,541.3 810.5,536 815.8,541.3 810.5,546.6" fill="#1ee61e"/>
<polygon points="809.4,541.3 814.7,536 820.0,541.3 814.7,546.6" fill="#1ee61e"/>
<polygon points="813.6,541.3 818.9,536 824.2,541.3 818.9,546.6" fill="#1ee61e"/>
<polygon points="817.8,541.3 823.1,536 828.4,541.3 823.1,546.6" fill="#1ee61e"/>
<polyline points="77.9,452.3 79.8,448.5 83.2,444.7 86.4,461.7 90.2,449.4 95.0,462.7 98.8,443.7 102.6,467.4 104.5,484.5 107.3,436.1 109.2,446.6 112.1,475.0 115.8,448.5 118.7,467.4 121.5,490.2 124.4,515.8 127.6,516.4 130.1,503.5 132.0,495.9 133.9,507.3 136.7,528.2 140.5,530.1 142.4,513.0 144.7,494.0 148.1,491.2 151.0,493.1 152.9,495.0 155.3,484.5 158.5,467.4 161.4,453.2 164.8,454.2 167.1,469.3 169.0,484.5 171.8,486.4 176.3,481.0 180.1,496.2 183.9,524.1 186.5,531.6 191.5,532.9 196.6,531.6 199.1,526.6 201.6,511.4 204.2,516.5 206.7,498.7 209.2,468.4 211.8,478.5 214.3,483.5 218.1,475.9 221.9,463.3 224.4,450.6 226.2,439.2 230.8,437.5 235.8,432.9 244.7,431.6 251.0,434.2 256.1,438.0 259.9,440.5 263.7,444.3 267.5,429.1 270.0,438.0 272.5,440.5 276.3,448.1 278.9,465.8 281.4,488.6 283.9,516.5 287.7,506.3 291.5,486.1 290.0,487.3 292.5,501.3 295.1,515.2 297.6,496.2 299.6,477.2 302.2,506.3 304.7,501.3 307.7,497.5 310.3,506.3 314.1,501.3 316.6,483.5 319.9,513.9 322.9,515.2 325.4,511.4 326.7,488.6 329.2,445.6 331.8,432.9 335.6,431.6 339.4,432.9 343.2,424.1 347.0,429.1 350.8,430.4 354.6,427.8 358.4,422.8 363.4,425.3 367.2,443.0 371.0,463.3 374.8,478.5 378.6,489.9 381.1,501.3 384.9,498.7 390.0,488.6 393.8,483.5 398.9,487.3 401.4,506.3 406.5,512.7 411.0,503.8 412.5,496.2 414.6,488.6 416.3,498.7 418.9,511.4 421.4,521.5 423.9,519.0 427.7,498.7 431.5,483.5 434.1,467.8 436.6,467.1 439.1,464.6 442.4,458.2 444.9,496.2 447.5,519.0 450.5,531.6 454.3,536.7 458.1,534.2 461.9,519.0 464.4,501.3 468.2,473.4 472.0,450.6 475.3,439.2 478.4,446.8 482.2,458.2 485.9,468.4 488.5,463.3 491.0,430.4 493.5,430.4 497.3,431.6 503.7,432.9 507.5,444.3 511.3,445.6 513.8,458.2 516.3,474.7 518.9,465.8 521.4,462.0 525.2,467.1 529.0,475.9 531.5,493.7 534.1,513.9 537.8,516.5 532.5,515.2 536.3,516.5 540.1,531.6 543.9,524.1 547.7,521.5 550.3,516.5 553.3,505.1 556.6,520.3 560.4,519.0 564.2,527.8 568.0,529.1 570.5,534.2 573.0,543.0 576.8,543.8 580.6,543.0 583.2,529.1 586.2,508.9 589.5,506.3 593.3,474.7 596.3,483.5 599.6,481.0 602.2,455.7 605.9,457.0 608.5,475.9 611.0,498.7 614.8,478.5 618.6,438.0 622.4,435.4 625.7,440.5 628.2,460.8 630.8,489.9 634.6,488.6 637.6,470.9 640.1,448.1 642.7,431.6 646.5,435.4 650.3,429.1 650.0,432.9 655.1,427.8 660.1,438.0 665.2,446.8 669.0,451.9 672.8,446.8 676.6,450.6 680.4,457.0 683.7,427.8 686.7,458.2 689.2,501.3 691.8,529.1 695.6,527.8 699.4,524.1 703.2,486.1 707.0,483.5 710.8,473.4 714.6,445.6 717.1,432.9 720.9,434.2 724.7,444.3 728.5,426.6 732.3,430.4 737.3,448.1 741.1,474.7 744.9,455.7 750.0,443.0 755.1,425.3 761.4,421.5 765.2,440.5 769.0,425.3 760.0,421.5 762.5,430.4 765.1,440.5 767.6,430.4 771.4,426.6 773.9,446.8 777.7,435.4 781.5,446.8 785.3,441.8 790.4,440.5 794.2,429.1 800.5,425.3 806.8,420.3 813.2,416.5 818.2,408.9 822.0,415.2 824.6,425.3 827.1,459.5 830.9,463.3 835.4,474.7 838.5,459.5 839.7,458.2" fill="none" stroke="#ad55c9" stroke-width="1" stroke-linejoin="round"/>
<path d="M348.2,455.7 C349.1,453.8 351.4,447.5 353.3,444.3 C355.2,441.1 357.5,438.4 359.6,436.7 C361.7,435.0 363.9,434.2 366.0,434.2 C368.1,434.2 370.4,435.4 372.3,436.7 C374.2,438.0 376.5,440.9 377.3,441.8" fill="none" stroke="#f7a21b" stroke-width="1.8" stroke-linejoin="round"/>
<path d="M724.7,454.4 C725.8,452.7 728.7,446.4 731.0,444.3 C733.3,442.2 736.3,441.7 738.6,441.8 C740.9,441.9 742.8,445.0 744.9,445.0 C747.0,445.0 749.0,443.4 751.3,441.8 C753.6,440.2 756.4,437.5 758.9,435.4 C761.4,433.3 764.0,430.6 766.5,429.1 C769.0,427.6 771.7,426.0 774.0,426.6 C776.3,427.2 777.6,431.0 780.3,432.9 C783.0,434.8 787.4,437.1 790.4,438.0 C793.4,438.9 795.5,438.9 798.0,438.0 C800.5,437.1 802.6,434.6 805.6,432.9 C808.6,431.2 812.8,429.3 815.7,427.8 C818.7,426.3 821.0,423.1 823.3,424.0 C825.6,424.9 827.5,430.1 829.6,432.9 C831.7,435.6 834.3,438.8 836.0,440.5 C837.7,442.2 839.1,442.6 839.7,443.0" fill="none" stroke="#f7a21b" stroke-width="1.8" stroke-linejoin="round"/>
<path d="M360.9,448.1 C361.8,447.3 364.3,444.4 366.0,443.5 C367.7,442.6 369.1,442.1 371.0,442.5 C372.9,442.9 376.2,445.1 377.3,445.6" fill="none" stroke="#9b3fe0" stroke-width="1.8" stroke-linejoin="round"/>
<path d="M722.2,448.1 C723.2,446.8 726.2,442.0 728.5,440.5 C730.8,439.0 733.4,439.2 736.1,439.2 C738.8,439.2 742.0,440.9 744.9,440.5 C747.8,440.1 751.3,438.0 753.8,436.7 C756.3,435.4 757.3,433.8 760.0,432.9 C762.7,432.0 766.7,431.4 770.1,431.6 C773.5,431.8 777.1,433.2 780.3,434.2 C783.5,435.2 786.1,437.1 789.1,437.5 C792.1,437.9 794.8,437.5 798.0,436.7 C801.2,435.9 804.7,434.2 808.1,432.9 C811.5,431.6 815.5,430.2 818.2,429.1 C821.0,428.1 822.1,426.4 824.6,426.6 C827.1,426.8 830.9,429.1 833.4,430.4 C835.9,431.7 838.7,433.6 839.7,434.2" fill="none" stroke="#9b3fe0" stroke-width="1.8" stroke-linejoin="round"/>
<path d="M78.0,485.4 C79.2,484.3 83.3,480.7 85.5,478.8 C87.7,476.9 89.3,475.2 91.2,474.1 C93.1,473.0 94.7,473.6 96.9,472.2 C99.1,470.8 102.0,467.6 104.5,465.5 C107.0,463.4 110.2,461.2 112.1,459.8 C114.0,458.4 114.5,457.3 115.8,457.0 C117.0,456.7 118.0,456.9 119.6,458.0 C121.2,459.1 123.4,461.7 125.3,463.6 C127.2,465.5 129.1,467.6 131.0,469.3 C132.9,471.1 134.8,471.9 136.7,474.1 C138.6,476.3 140.5,480.4 142.4,482.6 C144.3,484.8 146.2,486.1 148.1,487.4 C150.0,488.7 151.9,489.9 153.8,490.2 C155.7,490.5 157.3,489.9 159.5,489.3 C161.7,488.7 165.0,486.9 167.1,486.4 C169.2,485.8 169.4,484.8 172.0,486.0 C174.6,487.2 178.8,490.9 182.7,493.7 C186.6,496.4 191.7,500.6 195.3,502.5 C198.9,504.4 201.0,505.4 204.2,505.0 C207.4,504.6 210.7,501.7 214.3,500.0 C217.9,498.3 221.9,497.6 225.7,494.9 C229.5,492.1 232.8,487.5 237.0,483.5 C241.2,479.5 246.6,474.3 251.0,470.9 C255.4,467.5 259.5,465.8 263.7,463.3 C267.9,460.9 272.5,455.8 276.3,456.2 C280.1,456.6 282.9,463.1 286.5,465.8 C290.1,468.5 294.5,470.5 297.6,472.2 C300.7,473.9 302.2,474.1 305.2,476.0 C308.1,477.9 312.4,481.2 315.3,483.5 C318.2,485.8 320.8,488.3 322.9,489.9 C325.0,491.5 326.1,493.4 328.0,493.2 C329.9,493.0 332.2,490.6 334.3,488.6 C336.4,486.6 338.3,483.7 340.6,481.0 C342.9,478.3 345.7,475.1 348.2,472.2 C350.7,469.2 353.1,465.7 355.8,463.3 C358.6,460.9 362.2,458.1 364.7,457.7 C367.2,457.3 368.7,459.2 371.0,460.8 C373.3,462.4 376.1,465.3 378.6,467.1 C381.1,468.9 384.1,470.3 386.2,471.4 C388.3,472.4 388.8,472.8 391.3,473.4 C393.8,473.9 398.4,474.1 401.4,474.7 C404.3,475.3 406.3,475.7 409.0,477.2 C411.7,478.7 414.9,481.2 417.6,483.5 C420.3,485.8 422.9,489.1 425.2,491.1 C427.5,493.1 429.4,495.1 431.5,495.7 C433.6,496.3 435.5,495.3 437.8,494.9 C440.1,494.5 442.9,492.8 445.4,493.2 C447.9,493.6 450.7,495.7 453.0,497.5 C455.3,499.3 457.6,502.2 459.4,503.8 C461.2,505.4 461.8,507.4 463.7,506.8 C465.6,506.2 468.4,502.8 470.8,500.0 C473.2,497.2 475.9,493.1 478.4,489.9 C480.9,486.7 483.5,483.3 486.0,481.0 C488.5,478.7 491.0,477.9 493.5,476.0 C496.0,474.1 498.6,471.8 501.1,469.6 C503.6,467.4 506.8,464.1 508.7,462.8 C510.6,461.5 510.8,461.7 512.5,462.0 C514.2,462.3 516.6,463.5 518.9,464.6 C521.2,465.7 524.0,466.9 526.5,468.4 C529.0,469.9 531.7,471.9 534.0,473.4 C536.3,474.9 537.4,475.1 540.1,477.2 C542.8,479.3 546.9,482.9 550.3,486.1 C553.7,489.3 557.0,493.2 560.4,496.2 C563.8,499.1 567.1,501.3 570.5,503.8 C573.9,506.3 578.1,509.8 580.6,511.4 C583.1,513.0 583.5,513.6 585.2,513.2 C586.9,512.8 588.6,511.1 590.8,508.9 C593.0,506.7 595.9,502.8 598.4,500.0 C600.9,497.2 603.5,494.5 606.0,492.4 C608.5,490.3 611.0,489.0 613.5,487.3 C616.0,485.6 618.4,484.2 621.1,482.3 C623.9,480.4 627.5,476.9 630.0,476.0 C632.5,475.1 634.0,477.8 636.3,477.2 C638.6,476.6 641.4,474.1 643.9,472.2 C646.4,470.3 649.4,467.5 651.5,465.8 C653.6,464.1 654.2,463.5 656.3,462.0 C658.4,460.5 661.6,457.2 663.9,457.0 C666.2,456.8 668.0,460.2 670.3,460.8 C672.6,461.4 675.1,461.2 677.8,460.8 C680.5,460.4 684.0,458.1 686.7,458.7 C689.5,459.3 691.8,462.4 694.3,464.6 C696.8,466.9 699.8,470.5 701.9,472.2 C704.0,473.9 705.1,474.4 707.0,474.7 C708.9,475.0 711.2,474.9 713.3,474.2 C715.4,473.5 717.3,472.2 719.6,470.4 C721.9,468.6 724.5,466.0 727.2,463.3 C730.0,460.6 733.6,454.8 736.1,454.4 C738.6,454.0 740.3,459.1 742.4,460.8 C744.5,462.5 746.4,464.6 748.7,464.6 C751.0,464.6 753.4,462.5 756.3,460.8 C759.2,459.1 763.4,456.5 766.3,454.4 C769.2,452.3 771.6,448.5 773.9,448.1 C776.2,447.7 778.2,450.6 780.3,451.9 C782.4,453.2 784.3,455.5 786.6,455.7 C788.9,455.9 791.5,454.7 794.2,453.2 C796.9,451.7 800.3,449.1 803.0,446.8 C805.7,444.5 808.7,441.9 810.6,439.2 C812.5,436.5 812.9,432.7 814.4,430.4 C815.9,428.1 818.0,427.2 819.5,425.3 C821.0,423.4 822.0,417.3 823.3,419.0 C824.6,420.7 825.6,429.5 827.1,435.4 C828.6,441.3 830.7,450.0 832.2,454.4 C833.7,458.8 834.8,460.0 836.0,462.0 C837.2,464.0 839.1,465.6 839.7,466.3" fill="none" stroke="#3a6ee2" stroke-width="1.9" stroke-linejoin="round" stroke-linecap="round"/>
<path d="M77.9,433.3 C78.8,432.4 81.6,428.1 83.2,427.6 C84.8,427.1 86.1,429.0 87.4,430.4 C88.7,431.8 90.6,435.2 91.2,436.1" fill="none" stroke="#3ea346" stroke-width="2.6" stroke-linejoin="round" stroke-linecap="round"/>
<path d="M135.8,522.5 C136.3,523.6 137.7,527.7 138.6,529.1 C139.5,530.5 140.4,531.0 141.5,531.0 C142.6,531.0 144.7,529.4 145.3,529.1" fill="none" stroke="#3ea346" stroke-width="2.6" stroke-linejoin="round" stroke-linecap="round"/>
<path d="M189.0,521.0 C190.5,525.0 194.9,542.8 197.8,544.8 C200.8,546.8 205.2,535.0 206.7,533.0" fill="none" stroke="#3ea346" stroke-width="2.6" stroke-linejoin="round" stroke-linecap="round"/>
<path d="M225.7,449.4 C227.0,446.2 230.4,434.8 233.3,430.4 C236.2,426.0 240.5,424.1 243.4,422.8 C246.3,421.5 248.7,421.5 251.0,422.8 C253.3,424.1 255.2,427.9 257.3,430.4 C259.4,432.9 262.0,436.9 263.7,438.0 C265.4,439.1 265.6,435.4 267.5,436.7 C269.4,438.0 273.8,444.1 275.0,445.6" fill="none" stroke="#3ea346" stroke-width="2.6" stroke-linejoin="round" stroke-linecap="round"/>
<path d="M336.8,450.6 C337.4,447.7 339.5,437.8 340.6,432.9 C341.8,428.0 342.2,424.9 343.7,421.5 C345.2,418.1 347.9,414.6 349.5,412.7 C351.1,410.8 352.0,411.2 353.3,410.1 C354.6,409.0 355.8,406.1 357.1,406.3 C358.4,406.5 359.6,409.5 360.9,411.4 C362.2,413.3 363.4,414.5 364.7,417.7 C366.0,420.9 367.0,425.5 368.5,430.4 C370.0,435.2 372.7,444.1 373.5,446.8" fill="none" stroke="#3ea346" stroke-width="2.6" stroke-linejoin="round" stroke-linecap="round"/>
<path d="M459.4,521.0 C460.0,522.1 461.8,527.3 463.2,527.8 C464.6,528.3 466.9,524.6 467.7,524.0" fill="none" stroke="#3ea346" stroke-width="2.6" stroke-linejoin="round" stroke-linecap="round"/>
<path d="M479.6,462.0 C480.0,459.5 481.1,450.6 482.2,446.8 C483.3,443.0 484.9,440.7 486.0,439.2 C487.1,437.7 487.7,439.7 488.5,438.0 C489.3,436.3 489.7,431.6 491.0,429.1 C492.3,426.6 494.4,423.7 496.1,422.8 C497.8,421.9 499.4,423.2 501.1,424.0 C502.8,424.8 504.7,426.1 506.2,427.8 C507.7,429.5 508.9,432.5 510.0,434.2 C511.1,435.9 512.1,437.4 512.5,438.0" fill="none" stroke="#3ea346" stroke-width="2.6" stroke-linejoin="round" stroke-linecap="round"/>
<path d="M536.3,510.1 C537.1,513.3 539.5,524.5 541.4,529.1 C543.3,533.8 545.8,537.6 547.7,538.0 C549.6,538.4 551.1,532.5 552.8,531.6 C554.5,530.8 556.1,533.3 557.8,532.9 C559.5,532.5 561.0,530.4 562.9,529.1 C564.8,527.8 567.1,524.7 569.2,525.3 C571.3,525.9 573.5,530.1 575.6,532.9 C577.7,535.6 580.2,541.6 581.9,541.8 C583.6,542.0 584.2,536.7 585.7,534.2 C587.2,531.7 589.9,527.9 590.8,526.6" fill="none" stroke="#3ea346" stroke-width="2.6" stroke-linejoin="round" stroke-linecap="round"/>
<path d="M617.3,449.4 C618.1,448.3 620.7,444.5 622.4,443.0 C624.1,441.5 626.6,440.9 627.5,440.5" fill="none" stroke="#3ea346" stroke-width="2.6" stroke-linejoin="round" stroke-linecap="round"/>
<path d="M642.7,458.2 C643.5,456.5 646.0,450.7 647.7,448.0 C649.4,445.3 651.1,444.1 652.8,442.0 C654.4,439.9 655.5,437.5 657.6,435.4 C659.7,433.2 663.1,429.1 665.2,429.1 C667.3,429.1 668.6,432.6 670.3,435.4 C672.0,438.1 674.5,443.9 675.3,445.6" fill="none" stroke="#3ea346" stroke-width="2.6" stroke-linejoin="round" stroke-linecap="round"/>
<path d="M720.9,455.7 C721.5,452.3 723.4,441.7 724.7,435.4 C726.0,429.1 727.2,421.4 728.5,417.7 C729.8,414.0 730.8,413.0 732.3,413.2 C733.8,413.4 735.8,415.7 737.3,419.0 C738.8,422.3 739.6,428.3 741.1,432.9 C742.6,437.5 745.4,444.5 746.2,446.8" fill="none" stroke="#3ea346" stroke-width="2.6" stroke-linejoin="round" stroke-linecap="round"/>
<path d="M748.7,446.8 C750.0,444.9 754.0,438.6 756.3,435.4 C758.6,432.2 760.6,429.7 762.7,427.8 C764.8,425.9 766.7,424.0 769.0,424.0 C771.3,424.0 774.1,425.5 776.6,427.8 C779.1,430.1 781.7,435.0 784.0,438.0 C786.3,441.0 788.3,445.2 790.4,445.6 C792.5,446.0 794.4,443.0 796.7,440.5 C799.0,438.0 802.0,432.9 804.3,430.4 C806.6,427.9 808.5,427.6 810.6,425.3 C812.7,423.0 815.3,418.8 817.0,416.5 C818.7,414.2 819.5,411.8 820.8,411.4 C822.1,411.0 823.5,411.2 824.6,413.9 C825.7,416.6 826.1,422.7 827.1,427.8 C828.1,432.9 830.3,441.6 830.9,444.3" fill="none" stroke="#3ea346" stroke-width="2.6" stroke-linejoin="round" stroke-linecap="round"/>
<path d="M95.9,447.5 C96.5,446.7 98.4,443.4 99.7,442.8 C101.0,442.2 102.2,445.0 103.5,443.7 C104.8,442.4 105.9,436.8 107.3,435.2 C108.7,433.6 110.7,434.6 112.1,434.2 C113.5,433.8 114.5,432.1 115.8,432.9 C117.0,433.7 118.6,437.2 119.6,439.0 C120.5,440.8 121.2,442.9 121.5,443.7" fill="none" stroke="#ec3b3b" stroke-width="1.8" stroke-linejoin="round" stroke-linecap="round"/>
<path d="M242.2,454.4 C244.1,449.5 250.4,431.9 253.5,425.3 C256.6,418.7 258.7,417.3 261.0,415.0 C263.3,412.7 264.9,410.9 267.5,411.4 C270.1,411.8 273.8,412.6 276.3,417.7 C278.8,422.8 281.6,437.8 282.7,441.8" fill="none" stroke="#ec3b3b" stroke-width="1.8" stroke-linejoin="round" stroke-linecap="round"/>
<path d="M349.5,457.0 C350.6,453.8 353.9,443.7 355.8,438.0 C357.7,432.3 359.2,426.5 360.9,422.8 C362.6,419.1 364.3,416.6 366.0,415.7 C367.7,414.8 369.3,415.7 371.0,417.7 C372.7,419.7 374.4,424.4 376.1,427.8 C377.8,431.2 379.4,434.8 381.1,438.0 C382.8,441.2 385.4,445.3 386.2,446.8" fill="none" stroke="#ec3b3b" stroke-width="1.8" stroke-linejoin="round" stroke-linecap="round"/>
<path d="M417.6,519.0 C418.2,519.8 419.9,522.5 421.4,524.0 C422.9,525.5 425.0,527.6 426.5,527.8 C428.0,528.0 429.7,525.7 430.3,525.3" fill="none" stroke="#ec3b3b" stroke-width="1.8" stroke-linejoin="round" stroke-linecap="round"/>
<path d="M494.8,451.9 C495.6,450.4 498.2,445.4 499.9,443.0 C501.6,440.6 503.2,438.8 504.9,437.5 C506.6,436.2 508.5,435.5 510.0,435.4 C511.5,435.3 512.3,436.8 513.8,436.7 C515.3,436.6 517.2,435.4 518.9,435.0 C520.6,434.6 522.3,434.1 523.9,434.2 C525.5,434.3 527.7,435.2 528.5,435.4" fill="none" stroke="#ec3b3b" stroke-width="1.8" stroke-linejoin="round" stroke-linecap="round"/>
<path d="M552.8,515.2 C553.6,516.7 555.7,520.4 557.8,524.0 C559.9,527.6 563.3,532.9 565.4,536.7 C567.5,540.5 568.6,544.0 570.5,546.8 C572.4,549.5 574.9,551.8 576.8,553.2 C578.7,554.6 580.2,555.6 581.9,555.0 C583.6,554.4 585.1,552.7 587.0,549.4 C588.9,546.1 591.4,539.6 593.3,535.4 C595.2,531.2 597.5,525.9 598.4,524.0" fill="none" stroke="#ec3b3b" stroke-width="1.8" stroke-linejoin="round" stroke-linecap="round"/>
<path d="M638.9,450.6 C639.7,448.9 642.2,443.4 643.9,440.5 C645.6,437.6 647.3,435.0 649.0,432.9 C650.7,430.8 652.5,428.9 654.0,427.8 C655.5,426.8 656.4,426.2 658.0,426.6 C659.6,427.0 661.6,428.9 663.9,430.4 C666.1,431.9 669.0,433.7 671.5,435.4 C674.0,437.1 677.0,439.9 679.1,440.5 C681.2,441.1 682.7,438.3 684.2,439.2 C685.7,440.1 687.4,444.5 688.0,445.6" fill="none" stroke="#ec3b3b" stroke-width="1.8" stroke-linejoin="round" stroke-linecap="round"/>
<path d="M748.7,448.1 C749.8,446.2 752.9,440.1 755.0,436.7 C757.1,433.3 759.7,431.4 761.4,427.8 C763.1,424.2 763.6,417.9 765.1,415.2 C766.6,412.5 768.2,411.2 770.1,411.4 C772.0,411.6 774.4,414.4 776.5,416.5 C778.6,418.6 780.7,421.5 782.8,424.0 C784.9,426.5 787.0,429.9 789.1,431.6 C791.2,433.3 793.1,434.8 795.4,434.2 C797.7,433.6 800.5,429.7 803.0,427.8 C805.5,425.9 808.3,424.3 810.6,422.8 C812.9,421.3 814.9,419.9 817.0,419.0 C819.1,418.1 821.4,415.3 823.3,417.2 C825.2,419.1 826.7,426.3 828.4,430.4 C830.1,434.5 831.5,439.1 833.4,441.8 C835.3,444.5 838.7,446.0 839.7,446.8" fill="none" stroke="#ec3b3b" stroke-width="1.8" stroke-linejoin="round" stroke-linecap="round"/>
</g>
<text x="83.6" y="401.3" font-size="9.2" fill="#2a2d36" textLength="226.6" lengthAdjust="spacingAndGlyphs" stroke="#2a2d36" stroke-width="0.12">RW ft. F-MOD (0, 20, 10, 1, 5, 0, 20, 10, 12, 2, 20, 10, 21, 50)</text>
<text x="315.7" y="401.3" font-size="9.2" fill="#f6a53a" textLength="16.0" lengthAdjust="spacingAndGlyphs" stroke="#f6a53a" stroke-width="0.12">0.00</text>
<text x="336.8" y="401.3" font-size="9.2" fill="#4fd44f" textLength="16.0" lengthAdjust="spacingAndGlyphs" stroke="#4fd44f" stroke-width="0.12">0.00</text>
<text x="357.9" y="401.3" font-size="9.2" fill="#a35bc4" textLength="20.5" lengthAdjust="spacingAndGlyphs" stroke="#a35bc4" stroke-width="0.12">29.12</text>
<text x="383.2" y="401.3" font-size="9.2" fill="#a050cc" textLength="16.0" lengthAdjust="spacingAndGlyphs" stroke="#a050cc" stroke-width="0.12">0.00</text>
<text x="404.0" y="401.3" font-size="9.2" fill="#d45be6" textLength="16.0" lengthAdjust="spacingAndGlyphs" stroke="#d45be6" stroke-width="0.12">0.00</text>
<text x="424.4" y="401.3" font-size="9.2" fill="#e39af0" textLength="16.0" lengthAdjust="spacingAndGlyphs" stroke="#e39af0" stroke-width="0.12">0.00</text>
<text x="445.2" y="401.3" font-size="9.2" fill="#e53935" textLength="16.0" lengthAdjust="spacingAndGlyphs" stroke="#e53935" stroke-width="0.12">0.00</text>
<text x="466.2" y="401.3" font-size="9.2" fill="#3f51c5" textLength="16.0" lengthAdjust="spacingAndGlyphs" stroke="#3f51c5" stroke-width="0.12">0.00</text>
<text x="487.3" y="401.3" font-size="9.2" fill="#5cb85c" textLength="20.5" lengthAdjust="spacingAndGlyphs" stroke="#5cb85c" stroke-width="0.12">20.25</text>
<text x="513.2" y="401.3" font-size="9.2" fill="#f0607a" textLength="20.5" lengthAdjust="spacingAndGlyphs" stroke="#f0607a" stroke-width="0.12">41.35</text>
<text x="537.3" y="401.3" font-size="9.2" fill="#8a5cd0" textLength="20.5" lengthAdjust="spacingAndGlyphs" stroke="#8a5cd0" stroke-width="0.12">53.07</text>
<text x="562.8" y="401.3" font-size="9.2" fill="#f6a53a" textLength="20.5" lengthAdjust="spacingAndGlyphs" stroke="#f6a53a" stroke-width="0.12">45.98</text>
<text x="587.7" y="401.3" font-size="9.2" fill="#e53935" textLength="16.0" lengthAdjust="spacingAndGlyphs" stroke="#e53935" stroke-width="0.12">0.00</text>
<text x="608.5" y="401.3" font-size="9.2" fill="#3f4fc0" textLength="16.0" lengthAdjust="spacingAndGlyphs" stroke="#3f4fc0" stroke-width="0.12">0.00</text>
<text x="629.3" y="401.3" font-size="9.2" fill="#3f4fc0" textLength="16.0" lengthAdjust="spacingAndGlyphs" stroke="#3f4fc0" stroke-width="0.12">0.00</text>
<text x="650.4" y="401.3" font-size="9.2" fill="#5b8fe0" textLength="20.5" lengthAdjust="spacingAndGlyphs" stroke="#5b8fe0" stroke-width="0.12">20.15</text>
<text x="675.3" y="401.3" font-size="9.2" fill="#e53935" textLength="16.0" lengthAdjust="spacingAndGlyphs" stroke="#e53935" stroke-width="0.12">0.00</text>
<text x="696.1" y="401.3" font-size="9.2" fill="#3f4fc0" textLength="16.0" lengthAdjust="spacingAndGlyphs" stroke="#3f4fc0" stroke-width="0.12">0.00</text>
<text x="899.0" y="417.9" font-size="9.2" fill="#3b3e46" textLength="19.8" lengthAdjust="spacingAndGlyphs" stroke="#3b3e46" stroke-width="0.12">75.00</text>
<text x="899.0" y="441.6" font-size="9.2" fill="#3b3e46" textLength="19.8" lengthAdjust="spacingAndGlyphs" stroke="#3b3e46" stroke-width="0.12">50.00</text>
<text x="899.0" y="465.2" font-size="9.2" fill="#3b3e46" textLength="19.8" lengthAdjust="spacingAndGlyphs" stroke="#3b3e46" stroke-width="0.12">25.00</text>
<text x="899.0" y="488.8" font-size="9.2" fill="#3b3e46" textLength="15.4" lengthAdjust="spacingAndGlyphs" stroke="#3b3e46" stroke-width="0.12">0.00</text>
<text x="898.0" y="512.4" font-size="9.2" fill="#3b3e46" textLength="24.4" lengthAdjust="spacingAndGlyphs" stroke="#3b3e46" stroke-width="0.12">−25.00</text>
<text x="898.0" y="536.0" font-size="9.2" fill="#3b3e46" textLength="24.4" lengthAdjust="spacingAndGlyphs" stroke="#3b3e46" stroke-width="0.12">−50.00</text>
<text x="898.0" y="559.7" font-size="9.2" fill="#3b3e46" textLength="24.4" lengthAdjust="spacingAndGlyphs" stroke="#3b3e46" stroke-width="0.12">−75.00</text>
<text x="152.7" y="584.2" font-size="9.2" fill="#2a2d36" text-anchor="middle" font-weight="bold" textLength="18.0" lengthAdjust="spacingAndGlyphs" stroke="#2a2d36" stroke-width="0.12">2023</text>
<text x="259.0" y="584.2" font-size="9.2" fill="#2a2d36" text-anchor="middle" textLength="10.0" lengthAdjust="spacingAndGlyphs" stroke="#2a2d36" stroke-width="0.12">Jul</text>
<text x="365.6" y="584.2" font-size="9.2" fill="#2a2d36" text-anchor="middle" font-weight="bold" textLength="18.0" lengthAdjust="spacingAndGlyphs" stroke="#2a2d36" stroke-width="0.12">2024</text>
<text x="471.9" y="584.2" font-size="9.2" fill="#2a2d36" text-anchor="middle" textLength="10.0" lengthAdjust="spacingAndGlyphs" stroke="#2a2d36" stroke-width="0.12">Jul</text>
<text x="582.0" y="584.2" font-size="9.2" fill="#2a2d36" text-anchor="middle" font-weight="bold" textLength="18.0" lengthAdjust="spacingAndGlyphs" stroke="#2a2d36" stroke-width="0.12">2025</text>
<text x="688.7" y="584.2" font-size="9.2" fill="#2a2d36" text-anchor="middle" textLength="10.0" lengthAdjust="spacingAndGlyphs" stroke="#2a2d36" stroke-width="0.12">Jul</text>
<text x="794.0" y="584.2" font-size="9.2" fill="#2a2d36" text-anchor="middle" font-weight="bold" textLength="18.0" lengthAdjust="spacingAndGlyphs" stroke="#2a2d36" stroke-width="0.12">2026</text>
<circle cx="24.6" cy="581.6" r="5.6" fill="#f3f4f6"/>
<text x="24.6" y="584.5" font-size="8.2" fill="#74767e" text-anchor="middle" stroke="#74767e" stroke-width="0.12">Y</text>
<circle cx="60" cy="581.6" r="5.6" fill="#f3f4f6"/>
<text x="60.0" y="584.5" font-size="8.2" fill="#74767e" text-anchor="middle" stroke="#74767e" stroke-width="0.12">Z</text>
<circle cx="920" cy="581.6" r="5.6" fill="#f3f4f6"/>
<text x="920.0" y="584.5" font-size="8.2" fill="#74767e" text-anchor="middle" stroke="#74767e" stroke-width="0.12">A</text>
<circle cx="964" cy="581.6" r="5.6" fill="#f3f4f6"/>
<text x="964.0" y="584.5" font-size="8.2" fill="#74767e" text-anchor="middle" stroke="#74767e" stroke-width="0.12">B</text>
<circle cx="1000" cy="581.6" r="5.6" fill="#f3f4f6"/>
<text x="1000.0" y="584.5" font-size="8.2" fill="#74767e" text-anchor="middle" stroke="#74767e" stroke-width="0.12">C</text>
<circle cx="840" cy="378.5" r="6.5" fill="#ffffff" stroke="#9a3cc4" stroke-width="1.3"/>
<path d="M841.9 374.4 L837.5 379.4 L840.1 379.4 L838.5 382.8 L842.9 377.7 L840.3 377.7 Z" fill="#9a3cc4"/>
<circle cx="844.6" cy="374.1" r="2.6" fill="#ffffff"/>
<circle cx="844.6" cy="374.1" r="1.9" fill="#f23645"/>
<g fill="#131722">
<path d="M8 605.9 H16.1 V616 H12.2 V609.9 H8 Z"/>
<circle cx="19.85" cy="608" r="1.75"/>
<path d="M23.6 605.9 H28.4 L24.9 616 H20.2 Z"/>
</g>
<text x="33.6" y="616.2" font-size="14.6" fill="#131722" textLength="82.0" lengthAdjust="spacingAndGlyphs" stroke="#131722" stroke-width="0.75">TradingView</text>
</svg></body></html>
